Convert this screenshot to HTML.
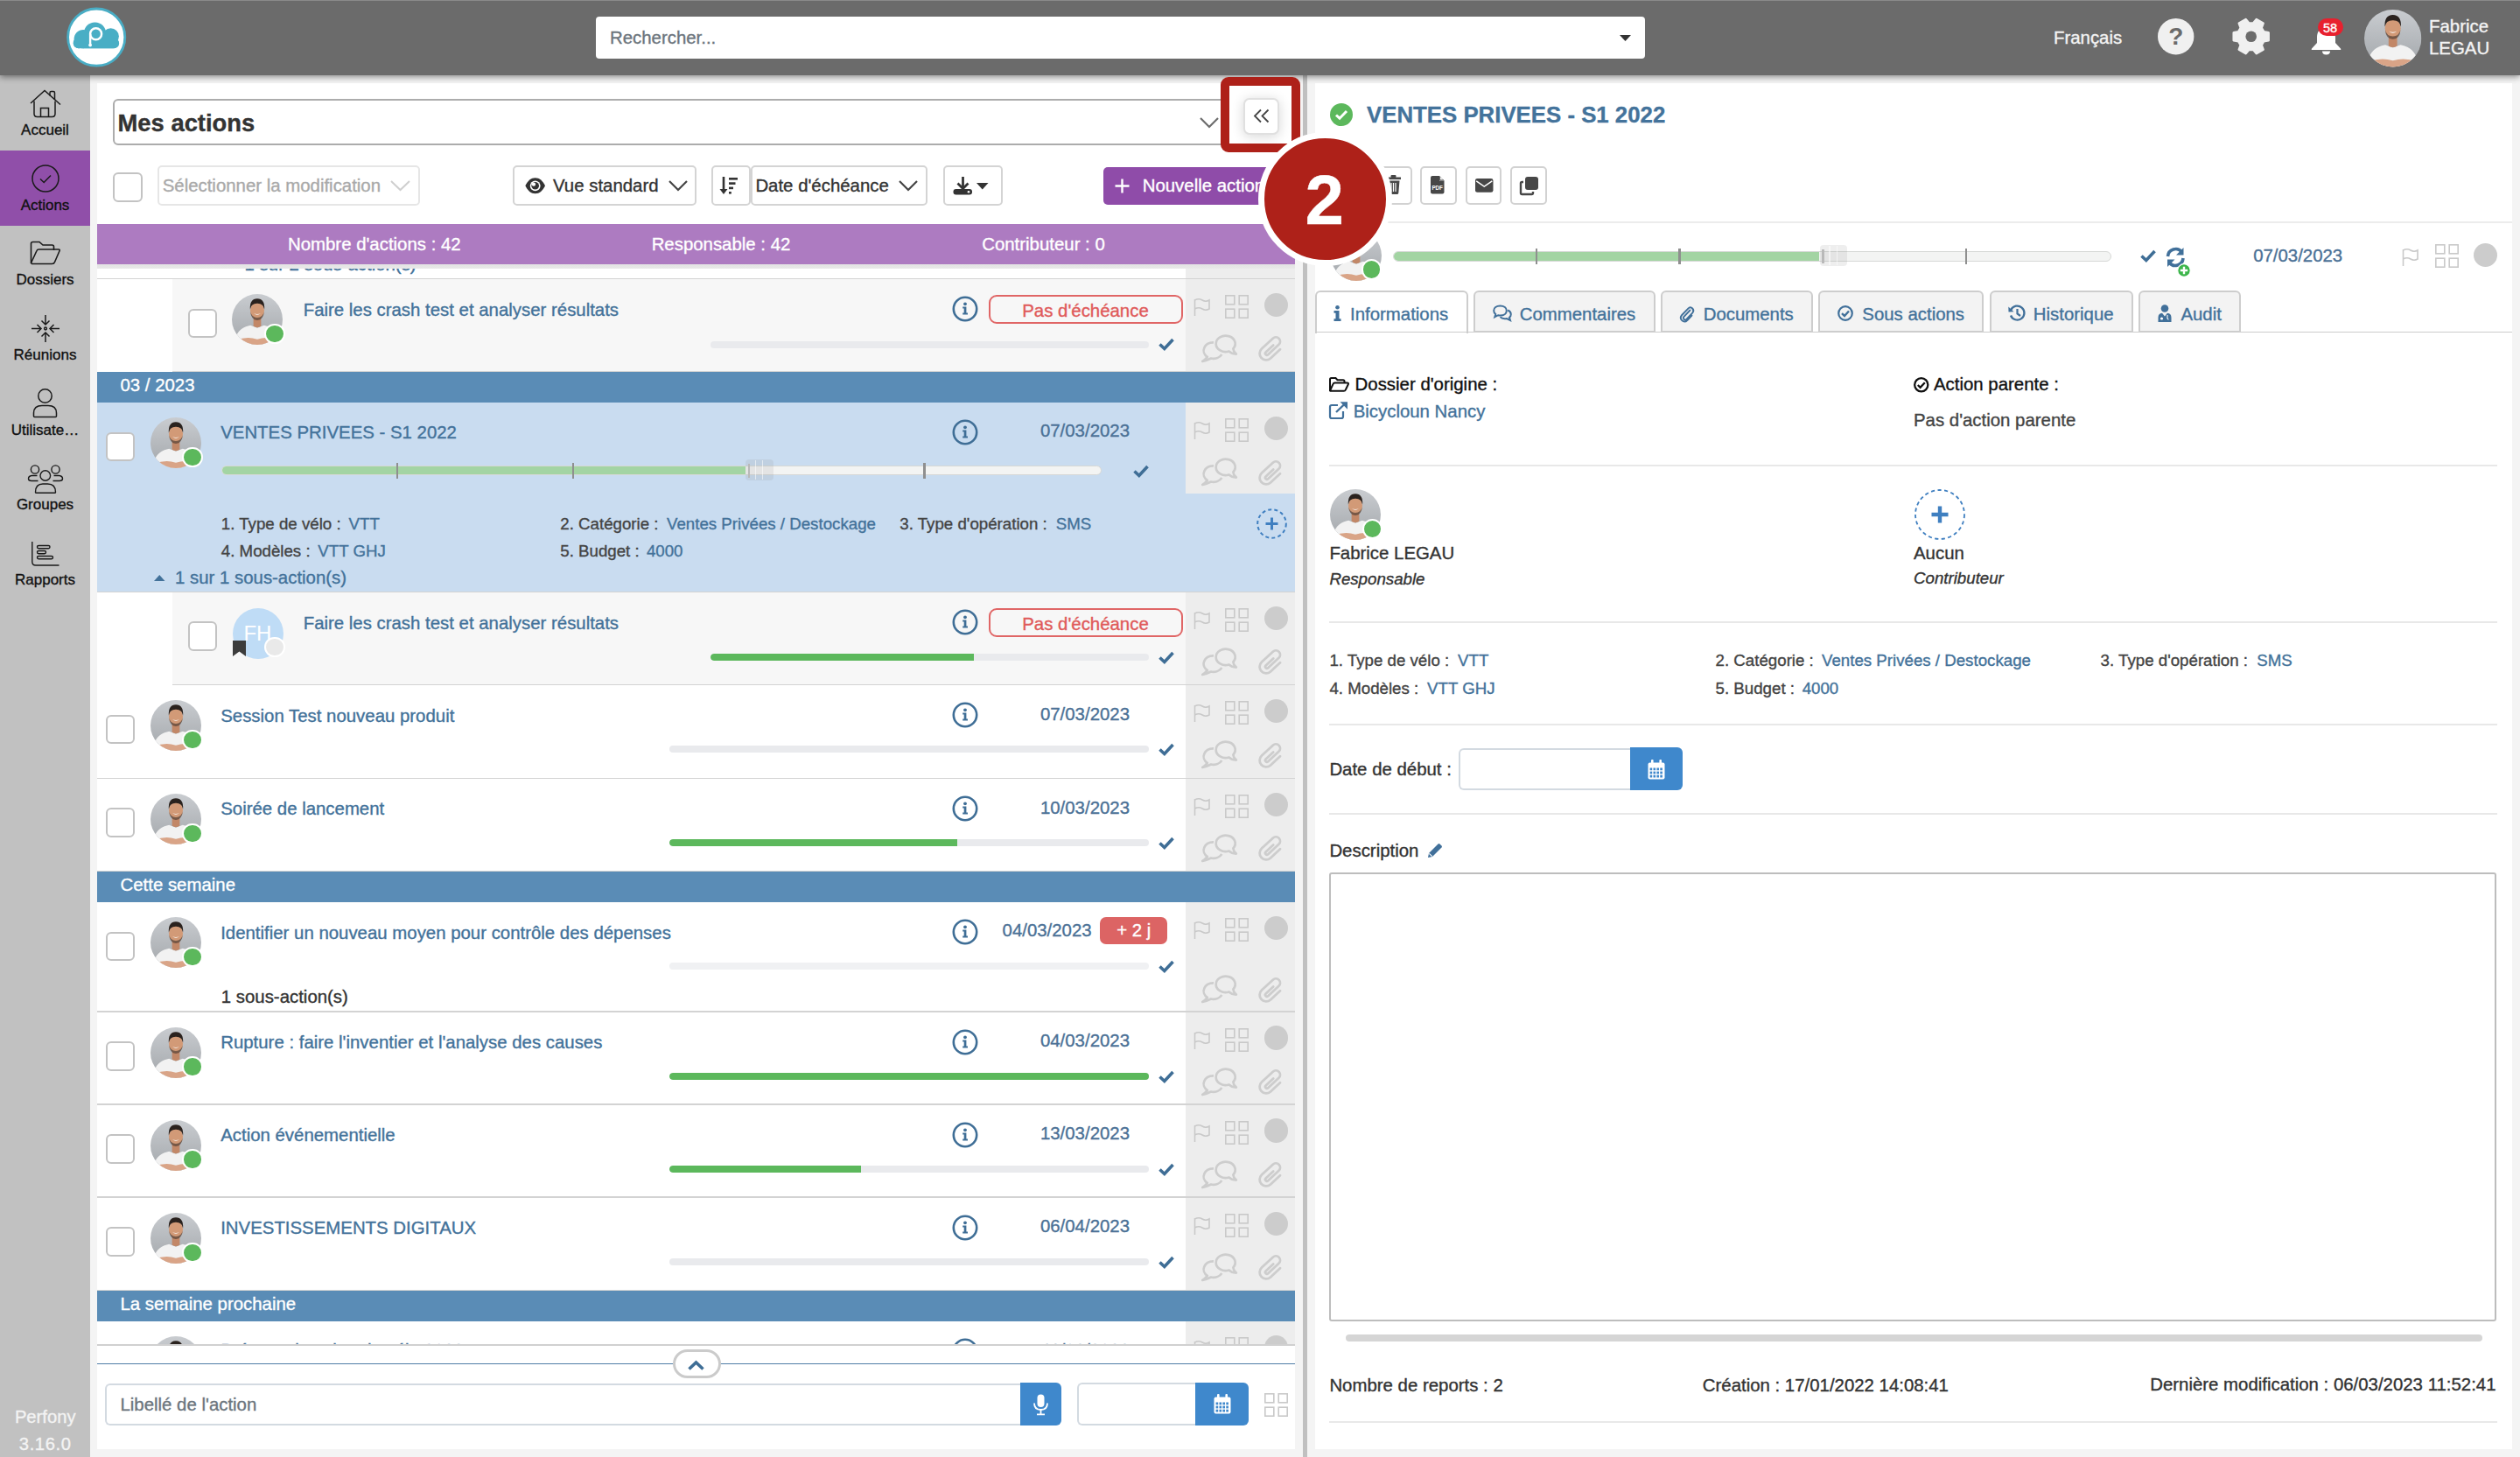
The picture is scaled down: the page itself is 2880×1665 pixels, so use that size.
<!DOCTYPE html><html><head><meta charset="utf-8"><title>Perfony - Mes actions</title><style>
html,body{margin:0;padding:0;}
body{width:2880px;height:1665px;position:relative;overflow:hidden;background:#f4f4f4;font-family:"Liberation Sans", Arial, Helvetica, sans-serif;}
.t{position:absolute;white-space:nowrap;line-height:1;-webkit-text-stroke:0.35px currentColor;}
svg{overflow:visible}
</style></head><body>
<div style="position:absolute;left:111.0px;top:95.0px;width:1369.0px;height:1561.0px;background:#fff"></div>
<div style="position:absolute;left:1502.5px;top:95.0px;width:1368.5px;height:1561.0px;background:#fff"></div>
<div style="position:absolute;left:1488.8px;top:85.0px;width:5.2px;height:1580.0px;background:#c0c0c0"></div>
<div style="position:absolute;left:0.0px;top:85.0px;width:103.0px;height:1580.0px;background:#c1c1c1"></div>
<div style="position:absolute;left:0.0px;top:172.0px;width:103.0px;height:85.5px;background:#904fa9"></div>
<svg style="position:absolute;left:33.0px;top:101.0px;" width="38.0" height="34.0" viewBox="0 0 38 34"><path d="M2 17 L18 2.5 L36 18.5" fill="none" stroke="#1a1a1a" stroke-width="1.5"/><path d="M6 14.5 V29 Q6 32.5 9.5 32.5 H26.5 Q30 32.5 30 29 V14.5" fill="none" stroke="#1a1a1a" stroke-width="1.5"/><path d="M13.5 32.5 V22.5 H22.5 V32.5" fill="none" stroke="#1a1a1a" stroke-width="1.5"/><path d="M24 8.5 V5 Q24 3.5 25.5 3.5 H28 Q29.5 3.5 29.5 5 V13" fill="none" stroke="#1a1a1a" stroke-width="1.5"/></svg>
<div class="t" style="left:-448.5px;width:1000px;text-align:center;top:139.6px;font-size:17px;color:#111;">Accueil</div>
<svg style="position:absolute;left:35.5px;top:187.5px;" width="32.0" height="32.0" viewBox="0 0 32 32"><circle cx="16" cy="16" r="15" fill="none" stroke="#1a1a1a" stroke-width="1.5"/><path d="M10 16.5 L14.2 20.5 L22 12.5" fill="none" stroke="#1a1a1a" stroke-width="1.5"/></svg>
<div class="t" style="left:-448.5px;width:1000px;text-align:center;top:225.6px;font-size:17px;color:#111;">Actions</div>
<svg style="position:absolute;left:33.5px;top:275.0px;" width="36.0" height="29.0" viewBox="0 0 36 29"><path d="M1.5 25.5 V3.5 Q1.5 1.5 3.5 1.5 H11 L15 5 H25.5 Q27.5 5 27.5 7 V11" fill="none" stroke="#1a1a1a" stroke-width="1.6"/><path d="M1.5 25.5 L8 11.5 Q8.6 10 10.3 10 H33 Q34.8 10 34 11.8 L28.5 24.5 Q27.8 26.5 25.5 26.5 H2.5 Z" fill="none" stroke="#1a1a1a" stroke-width="1.6" stroke-linejoin="round"/></svg>
<div class="t" style="left:-448.5px;width:1000px;text-align:center;top:310.6px;font-size:17px;color:#111;">Dossiers</div>
<svg style="position:absolute;left:35.5px;top:359.5px;" width="32.0" height="31.0" viewBox="0 0 32 31"><g fill="none" stroke="#1a1a1a" stroke-width="1.5"><path d="M16 0 V11 M11.5 6.5 L16 11 L20.5 6.5"/><path d="M16 31 V20 M11.5 24.5 L16 20 L20.5 24.5"/><path d="M0 15.5 H11 M6.5 11 L11 15.5 L6.5 20"/><path d="M32 15.5 H21 M25.5 11 L21 15.5 L25.5 20"/><circle cx="16" cy="15.5" r="1.4"/></g></svg>
<div class="t" style="left:-448.5px;width:1000px;text-align:center;top:396.6px;font-size:17px;color:#111;">Réunions</div>
<svg style="position:absolute;left:37.0px;top:444.0px;" width="29.0" height="33.0" viewBox="0 0 29 33"><g fill="none" stroke="#1a1a1a" stroke-width="1.5"><circle cx="14.5" cy="8.5" r="7.7"/><path d="M1.5 31.5 V28 Q1.5 19.5 11 19.5 H18 Q27.5 19.5 27.5 28 V31.5 Q27.5 32.5 26.5 32.5 H2.5 Q1.5 32.5 1.5 31.5 Z"/></g></svg>
<div class="t" style="left:-448.5px;width:1000px;text-align:center;top:482.6px;font-size:17px;color:#111;">Utilisate…</div>
<svg style="position:absolute;left:32.0px;top:530.5px;" width="40.0" height="33.0" viewBox="0 0 40 33"><g fill="none" stroke="#1a1a1a" stroke-width="1.4"><circle cx="8" cy="5.5" r="4.6"/><circle cx="31.5" cy="5.5" r="4.6"/><circle cx="19.8" cy="12.5" r="5.8"/><path d="M11.5 18.5 H4 Q0.5 18.5 0.5 16 Q0.5 13 4.5 12.5 H10.5"/><path d="M28.5 18.5 H36 Q39.5 18.5 39.5 16 Q39.5 13 35.5 12.5 H29.5"/><path d="M8.5 31.5 Q8.5 22 17 22 H22.5 Q31.5 22 31.5 31.5 Q31.5 32.3 30.5 32.3 H9.5 Q8.5 32.3 8.5 31.5 Z"/></g></svg>
<div class="t" style="left:-448.5px;width:1000px;text-align:center;top:567.6px;font-size:17px;color:#111;">Groupes</div>
<svg style="position:absolute;left:35.5px;top:618.5px;" width="32.0" height="28.0" viewBox="0 0 32 28"><g fill="none" stroke="#1a1a1a" stroke-width="1.4"><path d="M0.8 0 V23 Q0.8 27 4.8 27 H31.5"/><rect x="6.5" y="4.5" width="14.5" height="3.2" rx="1.6"/><rect x="6.5" y="10.5" width="10" height="3.2" rx="1.6"/><rect x="6.5" y="16.5" width="18" height="3.2" rx="1.6"/></g></svg>
<div class="t" style="left:-448.5px;width:1000px;text-align:center;top:653.6px;font-size:17px;color:#111;">Rapports</div>
<div class="t" style="left:-448.3px;width:1000px;text-align:center;top:1608.6px;font-size:20.2px;color:#f3f3f3;">Perfony</div>
<div class="t" style="left:-448.3px;width:1000px;text-align:center;top:1639.5px;font-size:20.2px;color:#f3f3f3;letter-spacing:0.6px">3.16.0</div>
<div style="position:absolute;left:0.0px;top:0.0px;width:2880.0px;height:85.5px;background:#6b6b6b;box-shadow:0 2px 7px rgba(0,0,0,0.45);border-top:1px solid #8a8a8a;box-sizing:border-box;z-index:5"></div>
<svg style="position:absolute;left:75.5px;top:9.0px;z-index:6" width="68.0" height="68.0" viewBox="0 0 68 68"><circle cx="34.2" cy="33.6" r="32.6" fill="#fff" stroke="#49adc5" stroke-width="2.8"/>
<g fill="#49aec5"><circle cx="32.5" cy="29" r="12.6"/><circle cx="50.5" cy="32.6" r="9.4"/><circle cx="54" cy="40.2" r="6"/><circle cx="19.2" cy="35.6" r="10.6"/><circle cx="14" cy="40" r="6.2"/>
<rect x="7.7" y="35" width="52.4" height="11.2" rx="6"/><rect x="17" y="30" width="36" height="16.2"/></g>
<circle cx="33.6" cy="29.8" r="6.5" fill="none" stroke="#fff" stroke-width="2.5"/>
<path d="M27.1 29.8 V42" stroke="#fff" stroke-width="2.4"/><circle cx="27.1" cy="42.6" r="1.9" fill="#fff"/></svg>
<div style="position:absolute;left:681.0px;top:19.0px;width:1199.0px;height:48.0px;background:#fff;border-radius:4px;z-index:6"></div>
<div class="t" style="left:697.0px;top:33.2px;font-size:20.4px;color:#6c757d;z-index:7">Rechercher...</div>
<svg style="position:absolute;left:1851.0px;top:40.0px;z-index:7" width="13.0" height="7.0" viewBox="0 0 13 7"><path d="M0 0 H13 L6.5 7 Z" fill="#333"/></svg>
<div class="t" style="left:2347.0px;top:32.9px;font-size:20.4px;color:#f4f4f4;z-index:7">Français</div>
<svg style="position:absolute;left:2465.7px;top:20.7px;z-index:7" width="41.4" height="41.4" viewBox="0 0 41.4 41.4"><circle cx="20.7" cy="20.7" r="20.7" fill="#f0f0f0"/><text x="20.9" y="30" text-anchor="middle" font-family="Liberation Sans, Arial" font-weight="bold" font-size="28" fill="#6b6b6b">?</text></svg>
<svg style="position:absolute;left:2551.5px;top:20.7px;z-index:7" width="41.4" height="41.4" viewBox="0 0 41.4 41.4"><path d="M35.21 15.24 L40.69 16.16 L40.69 25.24 L35.21 26.16 L32.68 30.53 L34.63 35.74 L26.77 40.28 L23.22 35.99 L18.18 35.99 L14.63 40.28 L6.77 35.74 L8.72 30.53 L6.19 26.16 L0.71 25.24 L0.71 16.16 L6.19 15.24 L8.72 10.87 L6.77 5.66 L14.63 1.12 L18.18 5.41 L23.22 5.41 L26.77 1.12 L34.63 5.66 L32.68 10.87 Z" fill="#f0f0f0" stroke="#f0f0f0" stroke-width="2.5" stroke-linejoin="round"/><circle cx="20.7" cy="20.7" r="6.3" fill="#6b6b6b"/></svg>
<svg style="position:absolute;left:2639.5px;top:28.0px;z-index:7" width="37.0" height="35.0" viewBox="0 0 37 35"><path d="M18.5 3 C10 3 8 10 8 15 V21 L2 27.5 Q1 29 3 29 H34 Q36 29 35 27.5 L29 21 V15 C29 10 27 3 18.5 3 Z" fill="#fff"/><path d="M14 30.5 Q14 34.5 18.5 34.5 Q23 34.5 23 30.5 Z" fill="#fff"/></svg>
<div style="position:absolute;left:2648.5px;top:21px;width:29px;height:20px;border-radius:10px;background:#e8202e;z-index:8"></div>
<div class="t" style="left:2163.0px;width:1000px;text-align:center;top:24.9px;font-size:14.5px;color:#fff;z-index:9">58</div>
<div style="position:absolute;left:0;top:0;z-index:7">
<svg style="position:absolute;left:2702.3px;top:10.6px;" width="65.4" height="65.4" viewBox="0 0 60 60"><defs><clipPath id="ac1"><circle cx="30" cy="30" r="30"/></clipPath>
<linearGradient id="ag1" x1="0" y1="0" x2="0" y2="1"><stop offset="0" stop-color="#c9ccd0"/><stop offset="1" stop-color="#a3a7ab"/></linearGradient></defs>
<g clip-path="url(#ac1)"><rect width="60" height="60" fill="url(#ag1)"/>
<path d="M3 64 C3 45 11 39.5 22 37 L30 40 L38 37 C49 39.5 57 45 57 64 Z" fill="#f2f2f2"/>
<path d="M5 55 Q17 49.5 30 53.5 Q43 49.5 55 55 L57 64 L3 64 Z" fill="#d9a487"/>
<path d="M25.5 27 H34.5 V38 Q30 41 25.5 38 Z" fill="#c28767"/>
<ellipse cx="30" cy="19.5" rx="8.3" ry="10.2" fill="#d29a77"/>
<path d="M21.6 18 Q20.8 5.6 30 5.4 Q39.2 5.6 38.4 18 Q37.2 11 30 11.2 Q22.8 11 21.6 18 Z" fill="#2a221e"/>
<path d="M22 21 Q22.5 30.5 30 31 Q37.5 30.5 38 21 Q36.5 27.8 30 28 Q23.5 27.8 22 21Z" fill="#3e302a" opacity="0.6"/>
<path d="M25.8 22.8 Q30 26.5 34.2 22.8 Q30 24.6 25.8 22.8Z" fill="#fff"/>
</g></svg>
</div>
<div class="t" style="left:2776.0px;top:19.5px;font-size:20.4px;color:#f4f4f4;z-index:7">Fabrice</div>
<div class="t" style="left:2776.0px;top:45.3px;font-size:20.4px;color:#f4f4f4;z-index:7">LEGAU</div>
<div style="position:absolute;left:129.0px;top:112.5px;width:1290.0px;height:53.0px;border:2px solid #acacac;border-radius:6px;box-sizing:border-box;background:#fff"></div>
<div class="t" style="left:134.5px;top:127.0px;font-size:27.4px;color:#333;font-weight:bold;">Mes actions</div>
<svg style="position:absolute;left:1371.0px;top:133.5px;" width="22.0" height="12.0" viewBox="0 0 22 12"><path d="M1 1 L11.0 11 L21 1" fill="none" stroke="#6d6d6d" stroke-width="2.2"/></svg>
<div style="position:absolute;left:128.6px;top:197.0px;width:34.0px;height:34.0px;box-sizing:border-box;border:2px solid #c3c3c3;border-radius:6px;background:#fff"></div>
<div style="position:absolute;left:180.0px;top:188.8px;width:300.0px;height:46.2px;border:2px solid #e6e6e6;border-radius:5px;box-sizing:border-box;background:#fff"></div>
<div class="t" style="left:185.7px;top:201.7px;font-size:20.4px;color:#a9a9a9;">Sélectionner la modification</div>
<svg style="position:absolute;left:446.0px;top:205.5px;" width="23.0" height="12.0" viewBox="0 0 23 12"><path d="M1 1 L11.5 11 L22 1" fill="none" stroke="#cfcfcf" stroke-width="2"/></svg>
<div style="position:absolute;left:586.2px;top:188.8px;width:209.8px;height:46.2px;border:2px solid #d4d4d4;border-radius:5px;box-sizing:border-box;background:#fff"></div>
<svg style="position:absolute;left:599.7px;top:202.8px;" width="23.4" height="18.6" viewBox="0 0 23.4 18.6"><path d="M0.4 9.3 C3 3.6 7 0.3 11.7 0.3 C16.4 0.3 20.4 3.6 23 9.3 C20.4 15 16.4 18.3 11.7 18.3 C7 18.3 3 15 0.4 9.3 Z" fill="#333"/><circle cx="11.7" cy="9.3" r="5.9" fill="#fff"/><circle cx="11.7" cy="9.3" r="4.3" fill="#333"/><circle cx="9.9" cy="7.6" r="2.2" fill="#fff"/></svg>
<div class="t" style="left:632.0px;top:201.7px;font-size:20.4px;color:#333;">Vue standard</div>
<svg style="position:absolute;left:763.5px;top:205.5px;" width="22.0" height="12.0" viewBox="0 0 22 12"><path d="M1 1 L11.0 11 L21 1" fill="none" stroke="#444" stroke-width="2.2"/></svg>
<div style="position:absolute;left:813.0px;top:188.8px;width:44.5px;height:46.2px;border:2px solid #d4d4d4;border-radius:5px;box-sizing:border-box;background:#fff"></div>
<svg style="position:absolute;left:822.0px;top:202.0px;" width="22.0" height="21.0" viewBox="0 0 22 21"><path d="M5 0 V17" stroke="#333" stroke-width="2.6"/><path d="M0.5 14 L5 20 L9.5 14 Z" fill="#333"/><rect x="11" y="1" width="10" height="2.6" fill="#333"/><rect x="11" y="6.3" width="7.5" height="2.6" fill="#333"/><rect x="11" y="11.6" width="5" height="2.6" fill="#333"/><rect x="11" y="17" width="2.8" height="2.6" fill="#333"/></svg>
<div style="position:absolute;left:858.0px;top:188.8px;width:201.8px;height:46.2px;border:2px solid #d4d4d4;border-radius:5px;box-sizing:border-box;background:#fff"></div>
<div class="t" style="left:863.4px;top:201.7px;font-size:20.4px;color:#333;">Date d'échéance</div>
<svg style="position:absolute;left:1027.0px;top:205.5px;" width="22.0" height="12.0" viewBox="0 0 22 12"><path d="M1 1 L11.0 11 L21 1" fill="none" stroke="#444" stroke-width="2.2"/></svg>
<div style="position:absolute;left:1077.5px;top:188.8px;width:68.5px;height:46.2px;border:2px solid #d4d4d4;border-radius:5px;box-sizing:border-box;background:#fff"></div>
<svg style="position:absolute;left:1088.5px;top:201.0px;" width="23.0" height="22.0" viewBox="0 0 23 22"><path d="M11.5 1 V13" stroke="#333" stroke-width="2.8"/><path d="M5.5 8.5 L11.5 14.5 L17.5 8.5" fill="none" stroke="#333" stroke-width="2.8"/><path d="M1.5 14 V19.5 Q1.5 21 3 21 H20 Q21.5 21 21.5 19.5 V14" fill="none" stroke="#333" stroke-width="0"/><rect x="0.5" y="15" width="21.5" height="6.5" rx="3" fill="#333"/><circle cx="18" cy="18.2" r="1.3" fill="#fff"/></svg>
<svg style="position:absolute;left:1116.0px;top:209.0px;" width="13.5" height="7.5" viewBox="0 0 13.5 7.5"><path d="M0 0 H13.5 L6.75 7.5 Z" fill="#333"/></svg>
<div style="position:absolute;left:1261.0px;top:191.3px;width:240.0px;height:42.3px;background:#8f4ca9;border-radius:5px"></div>
<svg style="position:absolute;left:1273.5px;top:203.5px;" width="17.0" height="17.0" viewBox="0 0 17 17"><path d="M8.5 0.5 V16.5 M0.5 8.5 H16.5" stroke="#fff" stroke-width="2.4"/></svg>
<div class="t" style="left:1305.7px;top:202.2px;font-size:20.4px;color:#fff;">Nouvelle action</div>
<div style="position:absolute;left:111.0px;top:256.4px;width:1369.0px;height:45.5px;background:#ad7bc1"></div>
<div class="t" style="left:-72.2px;width:1000px;text-align:center;top:269.2px;font-size:20.4px;color:#fff;">Nombre d'actions : 42</div>
<div class="t" style="left:324.0px;width:1000px;text-align:center;top:269.2px;font-size:20.4px;color:#fff;">Responsable : 42</div>
<div class="t" style="left:692.5px;width:1000px;text-align:center;top:269.2px;font-size:20.4px;color:#fff;">Contributeur : 0</div>
<div style="position:absolute;left:0;top:0;width:2880px;height:1665px;clip-path:inset(302px 1400px 128px 111px)">
<div style="position:absolute;left:111.0px;top:296.0px;width:1244.0px;height:22.3px;background:#fff"></div>
<div style="position:absolute;left:1355.0px;top:296.0px;width:125.0px;height:22.3px;background:#ededed"></div>
<div class="t" style="left:279.6px;top:291.9px;font-size:20.4px;color:#43729a;">1 sur 2 sous-action(s)</div>
<div style="position:absolute;left:111.0px;top:318.3px;width:86.0px;height:106.4px;background:#fff"></div>
<div style="position:absolute;left:197.0px;top:318.3px;width:1158.0px;height:106.4px;background:#f7f7f7"></div>
<div style="position:absolute;left:1355.0px;top:318.3px;width:125.0px;height:106.4px;background:#ededed"></div>
<div style="position:absolute;left:214.7px;top:352.5px;width:33.5px;height:33.5px;box-sizing:border-box;border:2px solid #c3c3c3;border-radius:6px;background:#fff"></div>
<svg style="position:absolute;left:265.4px;top:336.0px;" width="58.0" height="58.0" viewBox="0 0 60 60"><defs><clipPath id="ac2"><circle cx="30" cy="30" r="30"/></clipPath>
<linearGradient id="ag2" x1="0" y1="0" x2="0" y2="1"><stop offset="0" stop-color="#c9ccd0"/><stop offset="1" stop-color="#a3a7ab"/></linearGradient></defs>
<g clip-path="url(#ac2)"><rect width="60" height="60" fill="url(#ag2)"/>
<path d="M3 64 C3 45 11 39.5 22 37 L30 40 L38 37 C49 39.5 57 45 57 64 Z" fill="#f2f2f2"/>
<path d="M5 55 Q17 49.5 30 53.5 Q43 49.5 55 55 L57 64 L3 64 Z" fill="#d9a487"/>
<path d="M25.5 27 H34.5 V38 Q30 41 25.5 38 Z" fill="#c28767"/>
<ellipse cx="30" cy="19.5" rx="8.3" ry="10.2" fill="#d29a77"/>
<path d="M21.6 18 Q20.8 5.6 30 5.4 Q39.2 5.6 38.4 18 Q37.2 11 30 11.2 Q22.8 11 21.6 18 Z" fill="#2a221e"/>
<path d="M22 21 Q22.5 30.5 30 31 Q37.5 30.5 38 21 Q36.5 27.8 30 28 Q23.5 27.8 22 21Z" fill="#3e302a" opacity="0.6"/>
<path d="M25.8 22.8 Q30 26.5 34.2 22.8 Q30 24.6 25.8 22.8Z" fill="#fff"/>
</g></svg>
<div style="position:absolute;left:302.2px;top:369.6px;width:19.4px;height:19.4px;border-radius:50%;background:#5cb85c;border:2.5px solid #fff"></div>
<div class="t" style="left:346.7px;top:344.4px;font-size:20.4px;color:#43729a;">Faire les crash test et analyser résultats</div>
<svg style="position:absolute;left:1088.0px;top:338.0px;" width="30.0" height="30.0" viewBox="0 0 30 30"><circle cx="15" cy="15" r="13.2" fill="none" stroke="#3f6e96" stroke-width="2.6"/><circle cx="15" cy="9.3" r="1.9" fill="#3f6e96"/><path d="M12.2 12.6 H16.4 V19.6 H18 V21.6 H12.2 V19.6 H13.7 V14.6 H12.2 Z" fill="#3f6e96"/></svg>
<div style="position:absolute;left:1129.5px;top:337.0px;width:222.0px;height:33.2px;border:2px solid #e06666;border-radius:9px;box-sizing:border-box"></div>
<div class="t" style="left:740.5px;width:1000px;text-align:center;top:345.2px;font-size:20.4px;color:#e05a5a;">Pas d'échéance</div>
<div style="position:absolute;left:811.6px;top:389.5px;width:501.8px;height:8px;border-radius:4.0px;background:#e9eaed;overflow:hidden"><div style="width:0.0px;height:8px;background:#5cb85c;border-radius:4.0px 0 0 4.0px"></div></div>
<svg style="position:absolute;left:1324.0px;top:386.3px;" width="18.0" height="14.0" viewBox="0 0 18 14"><path d="M1.5 7.5 L6.8 12.5 L16.5 2" fill="none" stroke="#3f6e96" stroke-width="3.6" stroke-linejoin="miter" stroke-linecap="butt"/></svg>
<svg style="position:absolute;left:1363.5px;top:339.8px;" width="19.0" height="21.0" viewBox="0 0 19 21"><path d="M1.5 21 V2 M1.5 3 Q6 0.5 10 3 Q14 5.5 18 3 V13 Q14 15.5 10 13 Q6 10.5 1.5 13" fill="none" stroke="#c9c9c9" stroke-width="1.6"/></svg>
<svg style="position:absolute;left:1400.0px;top:336.8px;" width="27.0" height="27.0" viewBox="0 0 27 27"><rect x="0.80" y="0.80" width="10.01" height="10.01" fill="none" stroke="#c9c9c9" stroke-width="1.6"/><rect x="0.80" y="16.19" width="10.01" height="10.01" fill="none" stroke="#c9c9c9" stroke-width="1.6"/><rect x="16.19" y="0.80" width="10.01" height="10.01" fill="none" stroke="#c9c9c9" stroke-width="1.6"/><rect x="16.19" y="16.19" width="10.01" height="10.01" fill="none" stroke="#c9c9c9" stroke-width="1.6"/></svg>
<div style="position:absolute;left:1444.5px;top:334.6px;width:27.4px;height:27.4px;border-radius:50%;background:#cccccc"></div>
<svg style="position:absolute;left:1372.5px;top:380.8px;" width="41.0" height="33.0" viewBox="0 0 41 33"><path d="M31.46 20.45 A11.0 9.2 0 1 1 36.37 17.46 Q36.5 20.5 39.8 23.6 Q34.5 23.2 31.46 20.45 Z" fill="none" stroke="#cdcdcd" stroke-width="2.7" stroke-linejoin="round"/><path d="M13.98 10.41 A11.0 9.2 0 0 0 6.83 26.85 Q4.5 30 1.3 32 Q6.5 30.8 10.94 28.53 A11.0 9.2 0 0 0 23.31 23.92" fill="none" stroke="#cdcdcd" stroke-width="2.7" stroke-linejoin="round"/></svg>
<svg style="position:absolute;left:1437.0px;top:380.3px;" width="30.0" height="34.0" viewBox="0 0 30 34"><path d="M26.02 19.18 L15.05 29.41 A7.4 7.4 0 0 1 4.95 18.59 L17.75 6.65 A4.9 4.9 0 0 1 24.44 13.82 L12.22 25.21 A1.9 1.9 0 0 1 9.63 22.43 L18.19 14.45" fill="none" stroke="#cdcdcd" stroke-width="2.8" stroke-linecap="round"/></svg>
<div style="position:absolute;left:111.0px;top:425.0px;width:1369.0px;height:34.5px;background:#5a8cb6"></div>
<div class="t" style="left:137.5px;top:430.0px;font-size:20.4px;color:#fff;">03 / 2023</div>
<div style="position:absolute;left:111.0px;top:459.5px;width:1369.0px;height:216.7px;background:#c9dcf0"></div>
<div style="position:absolute;left:1355.0px;top:459.5px;width:125.0px;height:104.5px;background:#ececec"></div>
<div style="position:absolute;left:120.8px;top:493.6px;width:33.5px;height:33.5px;box-sizing:border-box;border:2px solid #c3c3c3;border-radius:6px;background:#fff"></div>
<svg style="position:absolute;left:171.5px;top:477.0px;" width="58.0" height="58.0" viewBox="0 0 60 60"><defs><clipPath id="ac3"><circle cx="30" cy="30" r="30"/></clipPath>
<linearGradient id="ag3" x1="0" y1="0" x2="0" y2="1"><stop offset="0" stop-color="#c9ccd0"/><stop offset="1" stop-color="#a3a7ab"/></linearGradient></defs>
<g clip-path="url(#ac3)"><rect width="60" height="60" fill="url(#ag3)"/>
<path d="M3 64 C3 45 11 39.5 22 37 L30 40 L38 37 C49 39.5 57 45 57 64 Z" fill="#f2f2f2"/>
<path d="M5 55 Q17 49.5 30 53.5 Q43 49.5 55 55 L57 64 L3 64 Z" fill="#d9a487"/>
<path d="M25.5 27 H34.5 V38 Q30 41 25.5 38 Z" fill="#c28767"/>
<ellipse cx="30" cy="19.5" rx="8.3" ry="10.2" fill="#d29a77"/>
<path d="M21.6 18 Q20.8 5.6 30 5.4 Q39.2 5.6 38.4 18 Q37.2 11 30 11.2 Q22.8 11 21.6 18 Z" fill="#2a221e"/>
<path d="M22 21 Q22.5 30.5 30 31 Q37.5 30.5 38 21 Q36.5 27.8 30 28 Q23.5 27.8 22 21Z" fill="#3e302a" opacity="0.6"/>
<path d="M25.8 22.8 Q30 26.5 34.2 22.8 Q30 24.6 25.8 22.8Z" fill="#fff"/>
</g></svg>
<div style="position:absolute;left:208.3px;top:510.6px;width:19.4px;height:19.4px;border-radius:50%;background:#5cb85c;border:2.5px solid #fff"></div>
<div class="t" style="left:252.2px;top:483.7px;font-size:20.4px;color:#43729a;">VENTES PRIVEES - S1 2022</div>
<svg style="position:absolute;left:1088.0px;top:478.8px;" width="30.0" height="30.0" viewBox="0 0 30 30"><circle cx="15" cy="15" r="13.2" fill="none" stroke="#3f6e96" stroke-width="2.6"/><circle cx="15" cy="9.3" r="1.9" fill="#3f6e96"/><path d="M12.2 12.6 H16.4 V19.6 H18 V21.6 H12.2 V19.6 H13.7 V14.6 H12.2 Z" fill="#3f6e96"/></svg>
<div class="t" style="right:1589.0px;top:481.7px;font-size:20.4px;color:#4b7196;">07/03/2023</div>
<div style="position:absolute;left:253.0px;top:532.3px;width:1004.4px;height:9px;border-radius:5.5px;background:#f3f4f3;border:1px solid #d6d8d6;overflow:hidden"><div style="width:597.6px;height:9px;background:#a3d4a3"></div></div>
<div style="position:absolute;left:452.7px;top:528.8px;width:2.6px;height:18px;background:#8f8f8f"></div>
<div style="position:absolute;left:653.6px;top:528.8px;width:2.6px;height:18px;background:#8f8f8f"></div>
<div style="position:absolute;left:1055.3px;top:528.8px;width:2.6px;height:18px;background:#8f8f8f"></div>
<div style="position:absolute;left:852.2px;top:524.8px;width:31.5px;height:24px;border-radius:4px;background:rgba(150,150,150,0.16)"><div style="position:absolute;left:10.5px;top:1px;width:1.2px;height:22px;background:rgba(255,255,255,0.55)"></div><div style="position:absolute;left:19px;top:1px;width:1.2px;height:22px;background:rgba(255,255,255,0.55)"></div><div style="position:absolute;left:2.5px;top:5px;width:2.6px;height:16px;background:#b9b9b9"></div></div>
<svg style="position:absolute;left:1294.6px;top:530.5px;" width="18.0" height="14.0" viewBox="0 0 18 14"><path d="M1.5 7.5 L6.8 12.5 L16.5 2" fill="none" stroke="#3f6e96" stroke-width="3.6" stroke-linejoin="miter" stroke-linecap="butt"/></svg>
<svg style="position:absolute;left:1363.5px;top:481.0px;" width="19.0" height="21.0" viewBox="0 0 19 21"><path d="M1.5 21 V2 M1.5 3 Q6 0.5 10 3 Q14 5.5 18 3 V13 Q14 15.5 10 13 Q6 10.5 1.5 13" fill="none" stroke="#c9c9c9" stroke-width="1.6"/></svg>
<svg style="position:absolute;left:1400.0px;top:478.0px;" width="27.0" height="27.0" viewBox="0 0 27 27"><rect x="0.80" y="0.80" width="10.01" height="10.01" fill="none" stroke="#c9c9c9" stroke-width="1.6"/><rect x="0.80" y="16.19" width="10.01" height="10.01" fill="none" stroke="#c9c9c9" stroke-width="1.6"/><rect x="16.19" y="0.80" width="10.01" height="10.01" fill="none" stroke="#c9c9c9" stroke-width="1.6"/><rect x="16.19" y="16.19" width="10.01" height="10.01" fill="none" stroke="#c9c9c9" stroke-width="1.6"/></svg>
<div style="position:absolute;left:1444.5px;top:475.8px;width:27.4px;height:27.4px;border-radius:50%;background:#cccccc"></div>
<svg style="position:absolute;left:1372.5px;top:522.0px;" width="41.0" height="33.0" viewBox="0 0 41 33"><path d="M31.46 20.45 A11.0 9.2 0 1 1 36.37 17.46 Q36.5 20.5 39.8 23.6 Q34.5 23.2 31.46 20.45 Z" fill="none" stroke="#cdcdcd" stroke-width="2.7" stroke-linejoin="round"/><path d="M13.98 10.41 A11.0 9.2 0 0 0 6.83 26.85 Q4.5 30 1.3 32 Q6.5 30.8 10.94 28.53 A11.0 9.2 0 0 0 23.31 23.92" fill="none" stroke="#cdcdcd" stroke-width="2.7" stroke-linejoin="round"/></svg>
<svg style="position:absolute;left:1437.0px;top:521.5px;" width="30.0" height="34.0" viewBox="0 0 30 34"><path d="M26.02 19.18 L15.05 29.41 A7.4 7.4 0 0 1 4.95 18.59 L17.75 6.65 A4.9 4.9 0 0 1 24.44 13.82 L12.22 25.21 A1.9 1.9 0 0 1 9.63 22.43 L18.19 14.45" fill="none" stroke="#cdcdcd" stroke-width="2.8" stroke-linecap="round"/></svg>
<div class="t" style="left:252.8px;top:590.0px;font-size:18.7px;color:#444;">1. Type de vélo :</div>
<div class="t" style="left:398.6px;top:590.0px;font-size:18.7px;color:#43729a;">VTT</div>
<div class="t" style="left:640.3px;top:590.0px;font-size:18.7px;color:#444;">2. Catégorie :</div>
<div class="t" style="left:762.0px;top:590.0px;font-size:18.7px;color:#43729a;">Ventes Privées / Destockage</div>
<div class="t" style="left:1028.3px;top:590.0px;font-size:18.7px;color:#444;">3. Type d'opération :</div>
<div class="t" style="left:1206.8px;top:590.0px;font-size:18.7px;color:#43729a;">SMS</div>
<div class="t" style="left:252.8px;top:621.4px;font-size:18.7px;color:#444;">4. Modèles :</div>
<div class="t" style="left:363.3px;top:621.4px;font-size:18.7px;color:#43729a;">VTT GHJ</div>
<div class="t" style="left:640.3px;top:621.4px;font-size:18.7px;color:#444;">5. Budget :</div>
<div class="t" style="left:738.9px;top:621.4px;font-size:18.7px;color:#43729a;">4000</div>
<svg style="position:absolute;left:1435.5px;top:580.7px;" width="35.0" height="35.0" viewBox="0 0 35 35"><circle cx="17.5" cy="17.5" r="16.3" fill="none" stroke="#3f7fc0" stroke-width="2" stroke-dasharray="4 3.2"/><path d="M17.5 10.5 V24.5 M10.5 17.5 H24.5" stroke="#3f7fc0" stroke-width="3"/></svg>
<svg style="position:absolute;left:176.4px;top:656.5px;" width="12.5" height="7.0" viewBox="0 0 12.5 7"><path d="M0 7 L6.25 0 L12.5 7 Z" fill="#43729a"/></svg>
<div class="t" style="left:200.0px;top:649.9px;font-size:20.4px;color:#43729a;">1 sur 1 sous-action(s)</div>
<div style="position:absolute;left:111.0px;top:676.2px;width:86.0px;height:106.3px;background:#fff"></div>
<div style="position:absolute;left:197.0px;top:676.2px;width:1158.0px;height:106.3px;background:#f7f7f7"></div>
<div style="position:absolute;left:1355.0px;top:676.2px;width:125.0px;height:106.3px;background:#ededed"></div>
<div style="position:absolute;left:214.7px;top:710.4px;width:33.5px;height:33.5px;box-sizing:border-box;border:2px solid #c3c3c3;border-radius:6px;background:#fff"></div>
<div style="position:absolute;left:265.8px;top:695.0px;width:58px;height:58px;border-radius:50%;background:#bfdcf6"></div>
<div class="t" style="left:-205.6px;width:1000px;text-align:center;top:711.9px;font-size:24px;color:#fff;-webkit-text-stroke:0;">FH</div>
<svg style="position:absolute;left:265.5px;top:731.7px;" width="15.0" height="18.0" viewBox="0 0 15 18"><path d="M0 0 H15 V18 L7.5 12.5 L0 18 Z" fill="#3c3c3c"/></svg>
<div style="position:absolute;left:302.2px;top:727.5px;width:19.4px;height:19.4px;border-radius:50%;background:#e9e9e9;border:2.5px solid #fff"></div>
<div class="t" style="left:346.7px;top:702.3px;font-size:20.4px;color:#43729a;">Faire les crash test et analyser résultats</div>
<svg style="position:absolute;left:1088.0px;top:695.9px;" width="30.0" height="30.0" viewBox="0 0 30 30"><circle cx="15" cy="15" r="13.2" fill="none" stroke="#3f6e96" stroke-width="2.6"/><circle cx="15" cy="9.3" r="1.9" fill="#3f6e96"/><path d="M12.2 12.6 H16.4 V19.6 H18 V21.6 H12.2 V19.6 H13.7 V14.6 H12.2 Z" fill="#3f6e96"/></svg>
<div style="position:absolute;left:1129.5px;top:694.9px;width:222.0px;height:33.2px;border:2px solid #e06666;border-radius:9px;box-sizing:border-box"></div>
<div class="t" style="left:740.5px;width:1000px;text-align:center;top:703.1px;font-size:20.4px;color:#e05a5a;">Pas d'échéance</div>
<div style="position:absolute;left:811.6px;top:747.4px;width:501.8px;height:8px;border-radius:4.0px;background:#e9eaed;overflow:hidden"><div style="width:301.1px;height:8px;background:#5cb85c;border-radius:4.0px 0 0 4.0px"></div></div>
<svg style="position:absolute;left:1324.0px;top:744.2px;" width="18.0" height="14.0" viewBox="0 0 18 14"><path d="M1.5 7.5 L6.8 12.5 L16.5 2" fill="none" stroke="#3f6e96" stroke-width="3.6" stroke-linejoin="miter" stroke-linecap="butt"/></svg>
<svg style="position:absolute;left:1363.5px;top:697.7px;" width="19.0" height="21.0" viewBox="0 0 19 21"><path d="M1.5 21 V2 M1.5 3 Q6 0.5 10 3 Q14 5.5 18 3 V13 Q14 15.5 10 13 Q6 10.5 1.5 13" fill="none" stroke="#c9c9c9" stroke-width="1.6"/></svg>
<svg style="position:absolute;left:1400.0px;top:694.7px;" width="27.0" height="27.0" viewBox="0 0 27 27"><rect x="0.80" y="0.80" width="10.01" height="10.01" fill="none" stroke="#c9c9c9" stroke-width="1.6"/><rect x="0.80" y="16.19" width="10.01" height="10.01" fill="none" stroke="#c9c9c9" stroke-width="1.6"/><rect x="16.19" y="0.80" width="10.01" height="10.01" fill="none" stroke="#c9c9c9" stroke-width="1.6"/><rect x="16.19" y="16.19" width="10.01" height="10.01" fill="none" stroke="#c9c9c9" stroke-width="1.6"/></svg>
<div style="position:absolute;left:1444.5px;top:692.5px;width:27.4px;height:27.4px;border-radius:50%;background:#cccccc"></div>
<svg style="position:absolute;left:1372.5px;top:738.7px;" width="41.0" height="33.0" viewBox="0 0 41 33"><path d="M31.46 20.45 A11.0 9.2 0 1 1 36.37 17.46 Q36.5 20.5 39.8 23.6 Q34.5 23.2 31.46 20.45 Z" fill="none" stroke="#cdcdcd" stroke-width="2.7" stroke-linejoin="round"/><path d="M13.98 10.41 A11.0 9.2 0 0 0 6.83 26.85 Q4.5 30 1.3 32 Q6.5 30.8 10.94 28.53 A11.0 9.2 0 0 0 23.31 23.92" fill="none" stroke="#cdcdcd" stroke-width="2.7" stroke-linejoin="round"/></svg>
<svg style="position:absolute;left:1437.0px;top:738.2px;" width="30.0" height="34.0" viewBox="0 0 30 34"><path d="M26.02 19.18 L15.05 29.41 A7.4 7.4 0 0 1 4.95 18.59 L17.75 6.65 A4.9 4.9 0 0 1 24.44 13.82 L12.22 25.21 A1.9 1.9 0 0 1 9.63 22.43 L18.19 14.45" fill="none" stroke="#cdcdcd" stroke-width="2.8" stroke-linecap="round"/></svg>
<div style="position:absolute;left:111.0px;top:782.5px;width:1244.0px;height:106.9px;background:#fff"></div>
<div style="position:absolute;left:1355.0px;top:782.5px;width:125.0px;height:106.9px;background:#ededed"></div>
<div style="position:absolute;left:120.8px;top:816.5px;width:33.5px;height:33.5px;box-sizing:border-box;border:2px solid #c3c3c3;border-radius:6px;background:#fff"></div>
<svg style="position:absolute;left:171.5px;top:800.2px;" width="58.0" height="58.0" viewBox="0 0 60 60"><defs><clipPath id="ac4"><circle cx="30" cy="30" r="30"/></clipPath>
<linearGradient id="ag4" x1="0" y1="0" x2="0" y2="1"><stop offset="0" stop-color="#c9ccd0"/><stop offset="1" stop-color="#a3a7ab"/></linearGradient></defs>
<g clip-path="url(#ac4)"><rect width="60" height="60" fill="url(#ag4)"/>
<path d="M3 64 C3 45 11 39.5 22 37 L30 40 L38 37 C49 39.5 57 45 57 64 Z" fill="#f2f2f2"/>
<path d="M5 55 Q17 49.5 30 53.5 Q43 49.5 55 55 L57 64 L3 64 Z" fill="#d9a487"/>
<path d="M25.5 27 H34.5 V38 Q30 41 25.5 38 Z" fill="#c28767"/>
<ellipse cx="30" cy="19.5" rx="8.3" ry="10.2" fill="#d29a77"/>
<path d="M21.6 18 Q20.8 5.6 30 5.4 Q39.2 5.6 38.4 18 Q37.2 11 30 11.2 Q22.8 11 21.6 18 Z" fill="#2a221e"/>
<path d="M22 21 Q22.5 30.5 30 31 Q37.5 30.5 38 21 Q36.5 27.8 30 28 Q23.5 27.8 22 21Z" fill="#3e302a" opacity="0.6"/>
<path d="M25.8 22.8 Q30 26.5 34.2 22.8 Q30 24.6 25.8 22.8Z" fill="#fff"/>
</g></svg>
<div style="position:absolute;left:208.3px;top:833.8px;width:19.4px;height:19.4px;border-radius:50%;background:#5cb85c;border:2.5px solid #fff"></div>
<div class="t" style="left:252.2px;top:807.5px;font-size:20.4px;color:#43729a;">Session Test nouveau produit</div>
<svg style="position:absolute;left:1088.0px;top:802.0px;" width="30.0" height="30.0" viewBox="0 0 30 30"><circle cx="15" cy="15" r="13.2" fill="none" stroke="#3f6e96" stroke-width="2.6"/><circle cx="15" cy="9.3" r="1.9" fill="#3f6e96"/><path d="M12.2 12.6 H16.4 V19.6 H18 V21.6 H12.2 V19.6 H13.7 V14.6 H12.2 Z" fill="#3f6e96"/></svg>
<div class="t" style="right:1589.0px;top:805.7px;font-size:20.4px;color:#4b7196;">07/03/2023</div>
<div style="position:absolute;left:764.9px;top:852.0px;width:548.5px;height:8px;border-radius:4.0px;background:#e9eaed;overflow:hidden"><div style="width:0.0px;height:8px;background:#5cb85c;border-radius:4.0px 0 0 4.0px"></div></div>
<svg style="position:absolute;left:1324.0px;top:849.0px;" width="18.0" height="14.0" viewBox="0 0 18 14"><path d="M1.5 7.5 L6.8 12.5 L16.5 2" fill="none" stroke="#3f6e96" stroke-width="3.6" stroke-linejoin="miter" stroke-linecap="butt"/></svg>
<svg style="position:absolute;left:1363.5px;top:804.0px;" width="19.0" height="21.0" viewBox="0 0 19 21"><path d="M1.5 21 V2 M1.5 3 Q6 0.5 10 3 Q14 5.5 18 3 V13 Q14 15.5 10 13 Q6 10.5 1.5 13" fill="none" stroke="#c9c9c9" stroke-width="1.6"/></svg>
<svg style="position:absolute;left:1400.0px;top:801.0px;" width="27.0" height="27.0" viewBox="0 0 27 27"><rect x="0.80" y="0.80" width="10.01" height="10.01" fill="none" stroke="#c9c9c9" stroke-width="1.6"/><rect x="0.80" y="16.19" width="10.01" height="10.01" fill="none" stroke="#c9c9c9" stroke-width="1.6"/><rect x="16.19" y="0.80" width="10.01" height="10.01" fill="none" stroke="#c9c9c9" stroke-width="1.6"/><rect x="16.19" y="16.19" width="10.01" height="10.01" fill="none" stroke="#c9c9c9" stroke-width="1.6"/></svg>
<div style="position:absolute;left:1444.5px;top:798.8px;width:27.4px;height:27.4px;border-radius:50%;background:#cccccc"></div>
<svg style="position:absolute;left:1372.5px;top:845.0px;" width="41.0" height="33.0" viewBox="0 0 41 33"><path d="M31.46 20.45 A11.0 9.2 0 1 1 36.37 17.46 Q36.5 20.5 39.8 23.6 Q34.5 23.2 31.46 20.45 Z" fill="none" stroke="#cdcdcd" stroke-width="2.7" stroke-linejoin="round"/><path d="M13.98 10.41 A11.0 9.2 0 0 0 6.83 26.85 Q4.5 30 1.3 32 Q6.5 30.8 10.94 28.53 A11.0 9.2 0 0 0 23.31 23.92" fill="none" stroke="#cdcdcd" stroke-width="2.7" stroke-linejoin="round"/></svg>
<svg style="position:absolute;left:1437.0px;top:844.5px;" width="30.0" height="34.0" viewBox="0 0 30 34"><path d="M26.02 19.18 L15.05 29.41 A7.4 7.4 0 0 1 4.95 18.59 L17.75 6.65 A4.9 4.9 0 0 1 24.44 13.82 L12.22 25.21 A1.9 1.9 0 0 1 9.63 22.43 L18.19 14.45" fill="none" stroke="#cdcdcd" stroke-width="2.8" stroke-linecap="round"/></svg>
<div style="position:absolute;left:111.0px;top:889.4px;width:1244.0px;height:106.2px;background:#fff"></div>
<div style="position:absolute;left:1355.0px;top:889.4px;width:125.0px;height:106.2px;background:#ededed"></div>
<div style="position:absolute;left:120.8px;top:923.4px;width:33.5px;height:33.5px;box-sizing:border-box;border:2px solid #c3c3c3;border-radius:6px;background:#fff"></div>
<svg style="position:absolute;left:171.5px;top:907.1px;" width="58.0" height="58.0" viewBox="0 0 60 60"><defs><clipPath id="ac5"><circle cx="30" cy="30" r="30"/></clipPath>
<linearGradient id="ag5" x1="0" y1="0" x2="0" y2="1"><stop offset="0" stop-color="#c9ccd0"/><stop offset="1" stop-color="#a3a7ab"/></linearGradient></defs>
<g clip-path="url(#ac5)"><rect width="60" height="60" fill="url(#ag5)"/>
<path d="M3 64 C3 45 11 39.5 22 37 L30 40 L38 37 C49 39.5 57 45 57 64 Z" fill="#f2f2f2"/>
<path d="M5 55 Q17 49.5 30 53.5 Q43 49.5 55 55 L57 64 L3 64 Z" fill="#d9a487"/>
<path d="M25.5 27 H34.5 V38 Q30 41 25.5 38 Z" fill="#c28767"/>
<ellipse cx="30" cy="19.5" rx="8.3" ry="10.2" fill="#d29a77"/>
<path d="M21.6 18 Q20.8 5.6 30 5.4 Q39.2 5.6 38.4 18 Q37.2 11 30 11.2 Q22.8 11 21.6 18 Z" fill="#2a221e"/>
<path d="M22 21 Q22.5 30.5 30 31 Q37.5 30.5 38 21 Q36.5 27.8 30 28 Q23.5 27.8 22 21Z" fill="#3e302a" opacity="0.6"/>
<path d="M25.8 22.8 Q30 26.5 34.2 22.8 Q30 24.6 25.8 22.8Z" fill="#fff"/>
</g></svg>
<div style="position:absolute;left:208.3px;top:940.7px;width:19.4px;height:19.4px;border-radius:50%;background:#5cb85c;border:2.5px solid #fff"></div>
<div class="t" style="left:252.2px;top:914.4px;font-size:20.4px;color:#43729a;">Soirée de lancement</div>
<svg style="position:absolute;left:1088.0px;top:908.9px;" width="30.0" height="30.0" viewBox="0 0 30 30"><circle cx="15" cy="15" r="13.2" fill="none" stroke="#3f6e96" stroke-width="2.6"/><circle cx="15" cy="9.3" r="1.9" fill="#3f6e96"/><path d="M12.2 12.6 H16.4 V19.6 H18 V21.6 H12.2 V19.6 H13.7 V14.6 H12.2 Z" fill="#3f6e96"/></svg>
<div class="t" style="right:1589.0px;top:912.6px;font-size:20.4px;color:#4b7196;">10/03/2023</div>
<div style="position:absolute;left:764.9px;top:958.9px;width:548.5px;height:8px;border-radius:4.0px;background:#e9eaed;overflow:hidden"><div style="width:329.1px;height:8px;background:#5cb85c;border-radius:4.0px 0 0 4.0px"></div></div>
<svg style="position:absolute;left:1324.0px;top:955.9px;" width="18.0" height="14.0" viewBox="0 0 18 14"><path d="M1.5 7.5 L6.8 12.5 L16.5 2" fill="none" stroke="#3f6e96" stroke-width="3.6" stroke-linejoin="miter" stroke-linecap="butt"/></svg>
<svg style="position:absolute;left:1363.5px;top:910.9px;" width="19.0" height="21.0" viewBox="0 0 19 21"><path d="M1.5 21 V2 M1.5 3 Q6 0.5 10 3 Q14 5.5 18 3 V13 Q14 15.5 10 13 Q6 10.5 1.5 13" fill="none" stroke="#c9c9c9" stroke-width="1.6"/></svg>
<svg style="position:absolute;left:1400.0px;top:907.9px;" width="27.0" height="27.0" viewBox="0 0 27 27"><rect x="0.80" y="0.80" width="10.01" height="10.01" fill="none" stroke="#c9c9c9" stroke-width="1.6"/><rect x="0.80" y="16.19" width="10.01" height="10.01" fill="none" stroke="#c9c9c9" stroke-width="1.6"/><rect x="16.19" y="0.80" width="10.01" height="10.01" fill="none" stroke="#c9c9c9" stroke-width="1.6"/><rect x="16.19" y="16.19" width="10.01" height="10.01" fill="none" stroke="#c9c9c9" stroke-width="1.6"/></svg>
<div style="position:absolute;left:1444.5px;top:905.7px;width:27.4px;height:27.4px;border-radius:50%;background:#cccccc"></div>
<svg style="position:absolute;left:1372.5px;top:951.9px;" width="41.0" height="33.0" viewBox="0 0 41 33"><path d="M31.46 20.45 A11.0 9.2 0 1 1 36.37 17.46 Q36.5 20.5 39.8 23.6 Q34.5 23.2 31.46 20.45 Z" fill="none" stroke="#cdcdcd" stroke-width="2.7" stroke-linejoin="round"/><path d="M13.98 10.41 A11.0 9.2 0 0 0 6.83 26.85 Q4.5 30 1.3 32 Q6.5 30.8 10.94 28.53 A11.0 9.2 0 0 0 23.31 23.92" fill="none" stroke="#cdcdcd" stroke-width="2.7" stroke-linejoin="round"/></svg>
<svg style="position:absolute;left:1437.0px;top:951.4px;" width="30.0" height="34.0" viewBox="0 0 30 34"><path d="M26.02 19.18 L15.05 29.41 A7.4 7.4 0 0 1 4.95 18.59 L17.75 6.65 A4.9 4.9 0 0 1 24.44 13.82 L12.22 25.21 A1.9 1.9 0 0 1 9.63 22.43 L18.19 14.45" fill="none" stroke="#cdcdcd" stroke-width="2.8" stroke-linecap="round"/></svg>
<div style="position:absolute;left:111.0px;top:996.0px;width:1369.0px;height:34.6px;background:#5a8cb6"></div>
<div class="t" style="left:137.5px;top:1001.0px;font-size:20.4px;color:#fff;">Cette semaine</div>
<div style="position:absolute;left:111.0px;top:1030.6px;width:1244.0px;height:125.4px;background:#fff"></div>
<div style="position:absolute;left:1355.0px;top:1030.6px;width:125.0px;height:125.4px;background:#ededed"></div>
<div style="position:absolute;left:120.8px;top:1064.6px;width:33.5px;height:33.5px;box-sizing:border-box;border:2px solid #c3c3c3;border-radius:6px;background:#fff"></div>
<svg style="position:absolute;left:171.5px;top:1048.3px;" width="58.0" height="58.0" viewBox="0 0 60 60"><defs><clipPath id="ac6"><circle cx="30" cy="30" r="30"/></clipPath>
<linearGradient id="ag6" x1="0" y1="0" x2="0" y2="1"><stop offset="0" stop-color="#c9ccd0"/><stop offset="1" stop-color="#a3a7ab"/></linearGradient></defs>
<g clip-path="url(#ac6)"><rect width="60" height="60" fill="url(#ag6)"/>
<path d="M3 64 C3 45 11 39.5 22 37 L30 40 L38 37 C49 39.5 57 45 57 64 Z" fill="#f2f2f2"/>
<path d="M5 55 Q17 49.5 30 53.5 Q43 49.5 55 55 L57 64 L3 64 Z" fill="#d9a487"/>
<path d="M25.5 27 H34.5 V38 Q30 41 25.5 38 Z" fill="#c28767"/>
<ellipse cx="30" cy="19.5" rx="8.3" ry="10.2" fill="#d29a77"/>
<path d="M21.6 18 Q20.8 5.6 30 5.4 Q39.2 5.6 38.4 18 Q37.2 11 30 11.2 Q22.8 11 21.6 18 Z" fill="#2a221e"/>
<path d="M22 21 Q22.5 30.5 30 31 Q37.5 30.5 38 21 Q36.5 27.8 30 28 Q23.5 27.8 22 21Z" fill="#3e302a" opacity="0.6"/>
<path d="M25.8 22.8 Q30 26.5 34.2 22.8 Q30 24.6 25.8 22.8Z" fill="#fff"/>
</g></svg>
<div style="position:absolute;left:208.3px;top:1081.9px;width:19.4px;height:19.4px;border-radius:50%;background:#5cb85c;border:2.5px solid #fff"></div>
<div class="t" style="left:252.2px;top:1055.6px;font-size:20.4px;color:#43729a;">Identifier un nouveau moyen pour contrôle des dépenses</div>
<svg style="position:absolute;left:1088.0px;top:1050.1px;" width="30.0" height="30.0" viewBox="0 0 30 30"><circle cx="15" cy="15" r="13.2" fill="none" stroke="#3f6e96" stroke-width="2.6"/><circle cx="15" cy="9.3" r="1.9" fill="#3f6e96"/><path d="M12.2 12.6 H16.4 V19.6 H18 V21.6 H12.2 V19.6 H13.7 V14.6 H12.2 Z" fill="#3f6e96"/></svg>
<div style="position:absolute;left:764.9px;top:1100.1px;width:548.5px;height:8px;border-radius:4.0px;background:#f0f1f3;overflow:hidden"><div style="width:0.0px;height:8px;background:#5cb85c;border-radius:4.0px 0 0 4.0px"></div></div>
<svg style="position:absolute;left:1324.0px;top:1097.1px;" width="18.0" height="14.0" viewBox="0 0 18 14"><path d="M1.5 7.5 L6.8 12.5 L16.5 2" fill="none" stroke="#3f6e96" stroke-width="3.6" stroke-linejoin="miter" stroke-linecap="butt"/></svg>
<svg style="position:absolute;left:1363.5px;top:1052.1px;" width="19.0" height="21.0" viewBox="0 0 19 21"><path d="M1.5 21 V2 M1.5 3 Q6 0.5 10 3 Q14 5.5 18 3 V13 Q14 15.5 10 13 Q6 10.5 1.5 13" fill="none" stroke="#c9c9c9" stroke-width="1.6"/></svg>
<svg style="position:absolute;left:1400.0px;top:1049.1px;" width="27.0" height="27.0" viewBox="0 0 27 27"><rect x="0.80" y="0.80" width="10.01" height="10.01" fill="none" stroke="#c9c9c9" stroke-width="1.6"/><rect x="0.80" y="16.19" width="10.01" height="10.01" fill="none" stroke="#c9c9c9" stroke-width="1.6"/><rect x="16.19" y="0.80" width="10.01" height="10.01" fill="none" stroke="#c9c9c9" stroke-width="1.6"/><rect x="16.19" y="16.19" width="10.01" height="10.01" fill="none" stroke="#c9c9c9" stroke-width="1.6"/></svg>
<div style="position:absolute;left:1444.5px;top:1046.9px;width:27.4px;height:27.4px;border-radius:50%;background:#cccccc"></div>
<svg style="position:absolute;left:1372.5px;top:1113.1px;" width="41.0" height="33.0" viewBox="0 0 41 33"><path d="M31.46 20.45 A11.0 9.2 0 1 1 36.37 17.46 Q36.5 20.5 39.8 23.6 Q34.5 23.2 31.46 20.45 Z" fill="none" stroke="#cdcdcd" stroke-width="2.7" stroke-linejoin="round"/><path d="M13.98 10.41 A11.0 9.2 0 0 0 6.83 26.85 Q4.5 30 1.3 32 Q6.5 30.8 10.94 28.53 A11.0 9.2 0 0 0 23.31 23.92" fill="none" stroke="#cdcdcd" stroke-width="2.7" stroke-linejoin="round"/></svg>
<svg style="position:absolute;left:1437.0px;top:1112.6px;" width="30.0" height="34.0" viewBox="0 0 30 34"><path d="M26.02 19.18 L15.05 29.41 A7.4 7.4 0 0 1 4.95 18.59 L17.75 6.65 A4.9 4.9 0 0 1 24.44 13.82 L12.22 25.21 A1.9 1.9 0 0 1 9.63 22.43 L18.19 14.45" fill="none" stroke="#cdcdcd" stroke-width="2.8" stroke-linecap="round"/></svg>
<div class="t" style="right:1632.4px;top:1053.3px;font-size:20.4px;color:#4b7196;">04/03/2023</div>
<div style="position:absolute;left:1257.4px;top:1048.3px;width:76.6px;height:30.3px;background:#dc6464;border-radius:7px"></div>
<div class="t" style="left:795.7px;width:1000px;text-align:center;top:1053.2px;font-size:20.4px;color:#fff;">+ 2 j</div>
<div class="t" style="left:252.8px;top:1129.1px;font-size:20.4px;color:#333;">1 sous-action(s)</div>
<div style="position:absolute;left:111.0px;top:1156.0px;width:1244.0px;height:106.0px;background:#fff"></div>
<div style="position:absolute;left:1355.0px;top:1156.0px;width:125.0px;height:106.0px;background:#ededed"></div>
<div style="position:absolute;left:120.8px;top:1190.0px;width:33.5px;height:33.5px;box-sizing:border-box;border:2px solid #c3c3c3;border-radius:6px;background:#fff"></div>
<svg style="position:absolute;left:171.5px;top:1173.7px;" width="58.0" height="58.0" viewBox="0 0 60 60"><defs><clipPath id="ac7"><circle cx="30" cy="30" r="30"/></clipPath>
<linearGradient id="ag7" x1="0" y1="0" x2="0" y2="1"><stop offset="0" stop-color="#c9ccd0"/><stop offset="1" stop-color="#a3a7ab"/></linearGradient></defs>
<g clip-path="url(#ac7)"><rect width="60" height="60" fill="url(#ag7)"/>
<path d="M3 64 C3 45 11 39.5 22 37 L30 40 L38 37 C49 39.5 57 45 57 64 Z" fill="#f2f2f2"/>
<path d="M5 55 Q17 49.5 30 53.5 Q43 49.5 55 55 L57 64 L3 64 Z" fill="#d9a487"/>
<path d="M25.5 27 H34.5 V38 Q30 41 25.5 38 Z" fill="#c28767"/>
<ellipse cx="30" cy="19.5" rx="8.3" ry="10.2" fill="#d29a77"/>
<path d="M21.6 18 Q20.8 5.6 30 5.4 Q39.2 5.6 38.4 18 Q37.2 11 30 11.2 Q22.8 11 21.6 18 Z" fill="#2a221e"/>
<path d="M22 21 Q22.5 30.5 30 31 Q37.5 30.5 38 21 Q36.5 27.8 30 28 Q23.5 27.8 22 21Z" fill="#3e302a" opacity="0.6"/>
<path d="M25.8 22.8 Q30 26.5 34.2 22.8 Q30 24.6 25.8 22.8Z" fill="#fff"/>
</g></svg>
<div style="position:absolute;left:208.3px;top:1207.3px;width:19.4px;height:19.4px;border-radius:50%;background:#5cb85c;border:2.5px solid #fff"></div>
<div class="t" style="left:252.2px;top:1181.0px;font-size:20.4px;color:#43729a;">Rupture : faire l'inventier et l'analyse des causes</div>
<svg style="position:absolute;left:1088.0px;top:1175.5px;" width="30.0" height="30.0" viewBox="0 0 30 30"><circle cx="15" cy="15" r="13.2" fill="none" stroke="#3f6e96" stroke-width="2.6"/><circle cx="15" cy="9.3" r="1.9" fill="#3f6e96"/><path d="M12.2 12.6 H16.4 V19.6 H18 V21.6 H12.2 V19.6 H13.7 V14.6 H12.2 Z" fill="#3f6e96"/></svg>
<div class="t" style="right:1589.0px;top:1179.2px;font-size:20.4px;color:#4b7196;">04/03/2023</div>
<div style="position:absolute;left:764.9px;top:1225.5px;width:548.5px;height:8px;border-radius:4.0px;background:#e9eaed;overflow:hidden"><div style="width:548.5px;height:8px;background:#5cb85c;border-radius:4.0px 0 0 4.0px"></div></div>
<svg style="position:absolute;left:1324.0px;top:1222.5px;" width="18.0" height="14.0" viewBox="0 0 18 14"><path d="M1.5 7.5 L6.8 12.5 L16.5 2" fill="none" stroke="#3f6e96" stroke-width="3.6" stroke-linejoin="miter" stroke-linecap="butt"/></svg>
<svg style="position:absolute;left:1363.5px;top:1177.5px;" width="19.0" height="21.0" viewBox="0 0 19 21"><path d="M1.5 21 V2 M1.5 3 Q6 0.5 10 3 Q14 5.5 18 3 V13 Q14 15.5 10 13 Q6 10.5 1.5 13" fill="none" stroke="#c9c9c9" stroke-width="1.6"/></svg>
<svg style="position:absolute;left:1400.0px;top:1174.5px;" width="27.0" height="27.0" viewBox="0 0 27 27"><rect x="0.80" y="0.80" width="10.01" height="10.01" fill="none" stroke="#c9c9c9" stroke-width="1.6"/><rect x="0.80" y="16.19" width="10.01" height="10.01" fill="none" stroke="#c9c9c9" stroke-width="1.6"/><rect x="16.19" y="0.80" width="10.01" height="10.01" fill="none" stroke="#c9c9c9" stroke-width="1.6"/><rect x="16.19" y="16.19" width="10.01" height="10.01" fill="none" stroke="#c9c9c9" stroke-width="1.6"/></svg>
<div style="position:absolute;left:1444.5px;top:1172.3px;width:27.4px;height:27.4px;border-radius:50%;background:#cccccc"></div>
<svg style="position:absolute;left:1372.5px;top:1218.5px;" width="41.0" height="33.0" viewBox="0 0 41 33"><path d="M31.46 20.45 A11.0 9.2 0 1 1 36.37 17.46 Q36.5 20.5 39.8 23.6 Q34.5 23.2 31.46 20.45 Z" fill="none" stroke="#cdcdcd" stroke-width="2.7" stroke-linejoin="round"/><path d="M13.98 10.41 A11.0 9.2 0 0 0 6.83 26.85 Q4.5 30 1.3 32 Q6.5 30.8 10.94 28.53 A11.0 9.2 0 0 0 23.31 23.92" fill="none" stroke="#cdcdcd" stroke-width="2.7" stroke-linejoin="round"/></svg>
<svg style="position:absolute;left:1437.0px;top:1218.0px;" width="30.0" height="34.0" viewBox="0 0 30 34"><path d="M26.02 19.18 L15.05 29.41 A7.4 7.4 0 0 1 4.95 18.59 L17.75 6.65 A4.9 4.9 0 0 1 24.44 13.82 L12.22 25.21 A1.9 1.9 0 0 1 9.63 22.43 L18.19 14.45" fill="none" stroke="#cdcdcd" stroke-width="2.8" stroke-linecap="round"/></svg>
<div style="position:absolute;left:111.0px;top:1262.0px;width:1244.0px;height:106.2px;background:#fff"></div>
<div style="position:absolute;left:1355.0px;top:1262.0px;width:125.0px;height:106.2px;background:#ededed"></div>
<div style="position:absolute;left:120.8px;top:1296.0px;width:33.5px;height:33.5px;box-sizing:border-box;border:2px solid #c3c3c3;border-radius:6px;background:#fff"></div>
<svg style="position:absolute;left:171.5px;top:1279.7px;" width="58.0" height="58.0" viewBox="0 0 60 60"><defs><clipPath id="ac8"><circle cx="30" cy="30" r="30"/></clipPath>
<linearGradient id="ag8" x1="0" y1="0" x2="0" y2="1"><stop offset="0" stop-color="#c9ccd0"/><stop offset="1" stop-color="#a3a7ab"/></linearGradient></defs>
<g clip-path="url(#ac8)"><rect width="60" height="60" fill="url(#ag8)"/>
<path d="M3 64 C3 45 11 39.5 22 37 L30 40 L38 37 C49 39.5 57 45 57 64 Z" fill="#f2f2f2"/>
<path d="M5 55 Q17 49.5 30 53.5 Q43 49.5 55 55 L57 64 L3 64 Z" fill="#d9a487"/>
<path d="M25.5 27 H34.5 V38 Q30 41 25.5 38 Z" fill="#c28767"/>
<ellipse cx="30" cy="19.5" rx="8.3" ry="10.2" fill="#d29a77"/>
<path d="M21.6 18 Q20.8 5.6 30 5.4 Q39.2 5.6 38.4 18 Q37.2 11 30 11.2 Q22.8 11 21.6 18 Z" fill="#2a221e"/>
<path d="M22 21 Q22.5 30.5 30 31 Q37.5 30.5 38 21 Q36.5 27.8 30 28 Q23.5 27.8 22 21Z" fill="#3e302a" opacity="0.6"/>
<path d="M25.8 22.8 Q30 26.5 34.2 22.8 Q30 24.6 25.8 22.8Z" fill="#fff"/>
</g></svg>
<div style="position:absolute;left:208.3px;top:1313.3px;width:19.4px;height:19.4px;border-radius:50%;background:#5cb85c;border:2.5px solid #fff"></div>
<div class="t" style="left:252.2px;top:1287.0px;font-size:20.4px;color:#43729a;">Action événementielle</div>
<svg style="position:absolute;left:1088.0px;top:1281.5px;" width="30.0" height="30.0" viewBox="0 0 30 30"><circle cx="15" cy="15" r="13.2" fill="none" stroke="#3f6e96" stroke-width="2.6"/><circle cx="15" cy="9.3" r="1.9" fill="#3f6e96"/><path d="M12.2 12.6 H16.4 V19.6 H18 V21.6 H12.2 V19.6 H13.7 V14.6 H12.2 Z" fill="#3f6e96"/></svg>
<div class="t" style="right:1589.0px;top:1285.2px;font-size:20.4px;color:#4b7196;">13/03/2023</div>
<div style="position:absolute;left:764.9px;top:1331.5px;width:548.5px;height:8px;border-radius:4.0px;background:#e9eaed;overflow:hidden"><div style="width:219.4px;height:8px;background:#5cb85c;border-radius:4.0px 0 0 4.0px"></div></div>
<svg style="position:absolute;left:1324.0px;top:1328.5px;" width="18.0" height="14.0" viewBox="0 0 18 14"><path d="M1.5 7.5 L6.8 12.5 L16.5 2" fill="none" stroke="#3f6e96" stroke-width="3.6" stroke-linejoin="miter" stroke-linecap="butt"/></svg>
<svg style="position:absolute;left:1363.5px;top:1283.5px;" width="19.0" height="21.0" viewBox="0 0 19 21"><path d="M1.5 21 V2 M1.5 3 Q6 0.5 10 3 Q14 5.5 18 3 V13 Q14 15.5 10 13 Q6 10.5 1.5 13" fill="none" stroke="#c9c9c9" stroke-width="1.6"/></svg>
<svg style="position:absolute;left:1400.0px;top:1280.5px;" width="27.0" height="27.0" viewBox="0 0 27 27"><rect x="0.80" y="0.80" width="10.01" height="10.01" fill="none" stroke="#c9c9c9" stroke-width="1.6"/><rect x="0.80" y="16.19" width="10.01" height="10.01" fill="none" stroke="#c9c9c9" stroke-width="1.6"/><rect x="16.19" y="0.80" width="10.01" height="10.01" fill="none" stroke="#c9c9c9" stroke-width="1.6"/><rect x="16.19" y="16.19" width="10.01" height="10.01" fill="none" stroke="#c9c9c9" stroke-width="1.6"/></svg>
<div style="position:absolute;left:1444.5px;top:1278.3px;width:27.4px;height:27.4px;border-radius:50%;background:#cccccc"></div>
<svg style="position:absolute;left:1372.5px;top:1324.5px;" width="41.0" height="33.0" viewBox="0 0 41 33"><path d="M31.46 20.45 A11.0 9.2 0 1 1 36.37 17.46 Q36.5 20.5 39.8 23.6 Q34.5 23.2 31.46 20.45 Z" fill="none" stroke="#cdcdcd" stroke-width="2.7" stroke-linejoin="round"/><path d="M13.98 10.41 A11.0 9.2 0 0 0 6.83 26.85 Q4.5 30 1.3 32 Q6.5 30.8 10.94 28.53 A11.0 9.2 0 0 0 23.31 23.92" fill="none" stroke="#cdcdcd" stroke-width="2.7" stroke-linejoin="round"/></svg>
<svg style="position:absolute;left:1437.0px;top:1324.0px;" width="30.0" height="34.0" viewBox="0 0 30 34"><path d="M26.02 19.18 L15.05 29.41 A7.4 7.4 0 0 1 4.95 18.59 L17.75 6.65 A4.9 4.9 0 0 1 24.44 13.82 L12.22 25.21 A1.9 1.9 0 0 1 9.63 22.43 L18.19 14.45" fill="none" stroke="#cdcdcd" stroke-width="2.8" stroke-linecap="round"/></svg>
<div style="position:absolute;left:111.0px;top:1368.2px;width:1244.0px;height:106.4px;background:#fff"></div>
<div style="position:absolute;left:1355.0px;top:1368.2px;width:125.0px;height:106.4px;background:#ededed"></div>
<div style="position:absolute;left:120.8px;top:1402.2px;width:33.5px;height:33.5px;box-sizing:border-box;border:2px solid #c3c3c3;border-radius:6px;background:#fff"></div>
<svg style="position:absolute;left:171.5px;top:1385.9px;" width="58.0" height="58.0" viewBox="0 0 60 60"><defs><clipPath id="ac9"><circle cx="30" cy="30" r="30"/></clipPath>
<linearGradient id="ag9" x1="0" y1="0" x2="0" y2="1"><stop offset="0" stop-color="#c9ccd0"/><stop offset="1" stop-color="#a3a7ab"/></linearGradient></defs>
<g clip-path="url(#ac9)"><rect width="60" height="60" fill="url(#ag9)"/>
<path d="M3 64 C3 45 11 39.5 22 37 L30 40 L38 37 C49 39.5 57 45 57 64 Z" fill="#f2f2f2"/>
<path d="M5 55 Q17 49.5 30 53.5 Q43 49.5 55 55 L57 64 L3 64 Z" fill="#d9a487"/>
<path d="M25.5 27 H34.5 V38 Q30 41 25.5 38 Z" fill="#c28767"/>
<ellipse cx="30" cy="19.5" rx="8.3" ry="10.2" fill="#d29a77"/>
<path d="M21.6 18 Q20.8 5.6 30 5.4 Q39.2 5.6 38.4 18 Q37.2 11 30 11.2 Q22.8 11 21.6 18 Z" fill="#2a221e"/>
<path d="M22 21 Q22.5 30.5 30 31 Q37.5 30.5 38 21 Q36.5 27.8 30 28 Q23.5 27.8 22 21Z" fill="#3e302a" opacity="0.6"/>
<path d="M25.8 22.8 Q30 26.5 34.2 22.8 Q30 24.6 25.8 22.8Z" fill="#fff"/>
</g></svg>
<div style="position:absolute;left:208.3px;top:1419.5px;width:19.4px;height:19.4px;border-radius:50%;background:#5cb85c;border:2.5px solid #fff"></div>
<div class="t" style="left:252.2px;top:1393.2px;font-size:20.4px;color:#43729a;">INVESTISSEMENTS DIGITAUX</div>
<svg style="position:absolute;left:1088.0px;top:1387.7px;" width="30.0" height="30.0" viewBox="0 0 30 30"><circle cx="15" cy="15" r="13.2" fill="none" stroke="#3f6e96" stroke-width="2.6"/><circle cx="15" cy="9.3" r="1.9" fill="#3f6e96"/><path d="M12.2 12.6 H16.4 V19.6 H18 V21.6 H12.2 V19.6 H13.7 V14.6 H12.2 Z" fill="#3f6e96"/></svg>
<div class="t" style="right:1589.0px;top:1391.4px;font-size:20.4px;color:#4b7196;">06/04/2023</div>
<div style="position:absolute;left:764.9px;top:1437.7px;width:548.5px;height:8px;border-radius:4.0px;background:#e9eaed;overflow:hidden"><div style="width:0.0px;height:8px;background:#5cb85c;border-radius:4.0px 0 0 4.0px"></div></div>
<svg style="position:absolute;left:1324.0px;top:1434.7px;" width="18.0" height="14.0" viewBox="0 0 18 14"><path d="M1.5 7.5 L6.8 12.5 L16.5 2" fill="none" stroke="#3f6e96" stroke-width="3.6" stroke-linejoin="miter" stroke-linecap="butt"/></svg>
<svg style="position:absolute;left:1363.5px;top:1389.7px;" width="19.0" height="21.0" viewBox="0 0 19 21"><path d="M1.5 21 V2 M1.5 3 Q6 0.5 10 3 Q14 5.5 18 3 V13 Q14 15.5 10 13 Q6 10.5 1.5 13" fill="none" stroke="#c9c9c9" stroke-width="1.6"/></svg>
<svg style="position:absolute;left:1400.0px;top:1386.7px;" width="27.0" height="27.0" viewBox="0 0 27 27"><rect x="0.80" y="0.80" width="10.01" height="10.01" fill="none" stroke="#c9c9c9" stroke-width="1.6"/><rect x="0.80" y="16.19" width="10.01" height="10.01" fill="none" stroke="#c9c9c9" stroke-width="1.6"/><rect x="16.19" y="0.80" width="10.01" height="10.01" fill="none" stroke="#c9c9c9" stroke-width="1.6"/><rect x="16.19" y="16.19" width="10.01" height="10.01" fill="none" stroke="#c9c9c9" stroke-width="1.6"/></svg>
<div style="position:absolute;left:1444.5px;top:1384.5px;width:27.4px;height:27.4px;border-radius:50%;background:#cccccc"></div>
<svg style="position:absolute;left:1372.5px;top:1430.7px;" width="41.0" height="33.0" viewBox="0 0 41 33"><path d="M31.46 20.45 A11.0 9.2 0 1 1 36.37 17.46 Q36.5 20.5 39.8 23.6 Q34.5 23.2 31.46 20.45 Z" fill="none" stroke="#cdcdcd" stroke-width="2.7" stroke-linejoin="round"/><path d="M13.98 10.41 A11.0 9.2 0 0 0 6.83 26.85 Q4.5 30 1.3 32 Q6.5 30.8 10.94 28.53 A11.0 9.2 0 0 0 23.31 23.92" fill="none" stroke="#cdcdcd" stroke-width="2.7" stroke-linejoin="round"/></svg>
<svg style="position:absolute;left:1437.0px;top:1430.2px;" width="30.0" height="34.0" viewBox="0 0 30 34"><path d="M26.02 19.18 L15.05 29.41 A7.4 7.4 0 0 1 4.95 18.59 L17.75 6.65 A4.9 4.9 0 0 1 24.44 13.82 L12.22 25.21 A1.9 1.9 0 0 1 9.63 22.43 L18.19 14.45" fill="none" stroke="#cdcdcd" stroke-width="2.8" stroke-linecap="round"/></svg>
<div style="position:absolute;left:111.0px;top:1475.0px;width:1369.0px;height:34.5px;background:#5a8cb6"></div>
<div class="t" style="left:137.5px;top:1480.0px;font-size:20.4px;color:#fff;">La semaine prochaine</div>
<div style="position:absolute;left:111.0px;top:1509.5px;width:1244.0px;height:106.5px;background:#fff"></div>
<div style="position:absolute;left:1355.0px;top:1509.5px;width:125.0px;height:106.5px;background:#ededed"></div>
<div style="position:absolute;left:120.8px;top:1543.5px;width:33.5px;height:33.5px;box-sizing:border-box;border:2px solid #c3c3c3;border-radius:6px;background:#fff"></div>
<svg style="position:absolute;left:171.5px;top:1527.2px;" width="58.0" height="58.0" viewBox="0 0 60 60"><defs><clipPath id="ac10"><circle cx="30" cy="30" r="30"/></clipPath>
<linearGradient id="ag10" x1="0" y1="0" x2="0" y2="1"><stop offset="0" stop-color="#c9ccd0"/><stop offset="1" stop-color="#a3a7ab"/></linearGradient></defs>
<g clip-path="url(#ac10)"><rect width="60" height="60" fill="url(#ag10)"/>
<path d="M3 64 C3 45 11 39.5 22 37 L30 40 L38 37 C49 39.5 57 45 57 64 Z" fill="#f2f2f2"/>
<path d="M5 55 Q17 49.5 30 53.5 Q43 49.5 55 55 L57 64 L3 64 Z" fill="#d9a487"/>
<path d="M25.5 27 H34.5 V38 Q30 41 25.5 38 Z" fill="#c28767"/>
<ellipse cx="30" cy="19.5" rx="8.3" ry="10.2" fill="#d29a77"/>
<path d="M21.6 18 Q20.8 5.6 30 5.4 Q39.2 5.6 38.4 18 Q37.2 11 30 11.2 Q22.8 11 21.6 18 Z" fill="#2a221e"/>
<path d="M22 21 Q22.5 30.5 30 31 Q37.5 30.5 38 21 Q36.5 27.8 30 28 Q23.5 27.8 22 21Z" fill="#3e302a" opacity="0.6"/>
<path d="M25.8 22.8 Q30 26.5 34.2 22.8 Q30 24.6 25.8 22.8Z" fill="#fff"/>
</g></svg>
<div style="position:absolute;left:208.3px;top:1560.8px;width:19.4px;height:19.4px;border-radius:50%;background:#5cb85c;border:2.5px solid #fff"></div>
<div class="t" style="left:252.2px;top:1532.5px;font-size:20.4px;color:#43729a;">Préparer le salon du vélo 2023</div>
<svg style="position:absolute;left:1088.0px;top:1529.0px;" width="30.0" height="30.0" viewBox="0 0 30 30"><circle cx="15" cy="15" r="13.2" fill="none" stroke="#3f6e96" stroke-width="2.6"/><circle cx="15" cy="9.3" r="1.9" fill="#3f6e96"/><path d="M12.2 12.6 H16.4 V19.6 H18 V21.6 H12.2 V19.6 H13.7 V14.6 H12.2 Z" fill="#3f6e96"/></svg>
<div class="t" style="right:1589.0px;top:1532.7px;font-size:20.4px;color:#4b7196;">11/03/2023</div>
<div style="position:absolute;left:764.9px;top:1579.0px;width:548.5px;height:8px;border-radius:4.0px;background:#e9eaed;overflow:hidden"><div style="width:0.0px;height:8px;background:#5cb85c;border-radius:4.0px 0 0 4.0px"></div></div>
<svg style="position:absolute;left:1324.0px;top:1576.0px;" width="18.0" height="14.0" viewBox="0 0 18 14"><path d="M1.5 7.5 L6.8 12.5 L16.5 2" fill="none" stroke="#3f6e96" stroke-width="3.6" stroke-linejoin="miter" stroke-linecap="butt"/></svg>
<svg style="position:absolute;left:1363.5px;top:1531.0px;" width="19.0" height="21.0" viewBox="0 0 19 21"><path d="M1.5 21 V2 M1.5 3 Q6 0.5 10 3 Q14 5.5 18 3 V13 Q14 15.5 10 13 Q6 10.5 1.5 13" fill="none" stroke="#c9c9c9" stroke-width="1.6"/></svg>
<svg style="position:absolute;left:1400.0px;top:1528.0px;" width="27.0" height="27.0" viewBox="0 0 27 27"><rect x="0.80" y="0.80" width="10.01" height="10.01" fill="none" stroke="#c9c9c9" stroke-width="1.6"/><rect x="0.80" y="16.19" width="10.01" height="10.01" fill="none" stroke="#c9c9c9" stroke-width="1.6"/><rect x="16.19" y="0.80" width="10.01" height="10.01" fill="none" stroke="#c9c9c9" stroke-width="1.6"/><rect x="16.19" y="16.19" width="10.01" height="10.01" fill="none" stroke="#c9c9c9" stroke-width="1.6"/></svg>
<div style="position:absolute;left:1444.5px;top:1525.8px;width:27.4px;height:27.4px;border-radius:50%;background:#cccccc"></div>
<svg style="position:absolute;left:1372.5px;top:1572.0px;" width="41.0" height="33.0" viewBox="0 0 41 33"><path d="M31.46 20.45 A11.0 9.2 0 1 1 36.37 17.46 Q36.5 20.5 39.8 23.6 Q34.5 23.2 31.46 20.45 Z" fill="none" stroke="#cdcdcd" stroke-width="2.7" stroke-linejoin="round"/><path d="M13.98 10.41 A11.0 9.2 0 0 0 6.83 26.85 Q4.5 30 1.3 32 Q6.5 30.8 10.94 28.53 A11.0 9.2 0 0 0 23.31 23.92" fill="none" stroke="#cdcdcd" stroke-width="2.7" stroke-linejoin="round"/></svg>
<svg style="position:absolute;left:1437.0px;top:1571.5px;" width="30.0" height="34.0" viewBox="0 0 30 34"><path d="M26.02 19.18 L15.05 29.41 A7.4 7.4 0 0 1 4.95 18.59 L17.75 6.65 A4.9 4.9 0 0 1 24.44 13.82 L12.22 25.21 A1.9 1.9 0 0 1 9.63 22.43 L18.19 14.45" fill="none" stroke="#cdcdcd" stroke-width="2.8" stroke-linecap="round"/></svg>
<div style="position:absolute;left:111.0px;top:317.5px;width:1369.0px;height:1.6px;background:#d3d3d3"></div>
<div style="position:absolute;left:197.0px;top:423.9px;width:1283.0px;height:1.6px;background:#d3d3d3"></div>
<div style="position:absolute;left:197.0px;top:781.7px;width:1283.0px;height:1.6px;background:#d3d3d3"></div>
<div style="position:absolute;left:111.0px;top:888.6px;width:1369.0px;height:1.6px;background:#d3d3d3"></div>
<div style="position:absolute;left:111.0px;top:994.8px;width:1369.0px;height:1.6px;background:#d3d3d3"></div>
<div style="position:absolute;left:111.0px;top:1155.2px;width:1369.0px;height:1.6px;background:#d3d3d3"></div>
<div style="position:absolute;left:111.0px;top:1261.2px;width:1369.0px;height:1.6px;background:#d3d3d3"></div>
<div style="position:absolute;left:111.0px;top:1367.4px;width:1369.0px;height:1.6px;background:#d3d3d3"></div>
<div style="position:absolute;left:111.0px;top:1473.8px;width:1369.0px;height:1.6px;background:#d3d3d3"></div>
<div style="position:absolute;left:111.0px;top:675.6px;width:1369.0px;height:1.2px;background:#d3d3d3"></div>
<div style="position:absolute;left:111.0px;top:301.9px;width:1369.0px;height:5.4px;background:linear-gradient(#e3e3e3,#e8e8e8)"></div>
</div>
<div style="position:absolute;left:111.0px;top:1536.2px;width:1369.0px;height:1.6px;background:#d0d0d0"></div>
<div style="position:absolute;left:111.0px;top:1557.6px;width:1369.0px;height:1.8px;background:#4f7da6"></div>
<div style="position:absolute;left:768.5px;top:1542.0px;width:55.3px;height:33.0px;border:3px solid #cbcbcb;border-radius:17px;background:#fff;box-sizing:border-box"></div>
<svg style="position:absolute;left:786.0px;top:1555.0px;" width="19.0" height="11.0" viewBox="0 0 19 11"><path d="M1.5 9.5 L9.5 2 L17.5 9.5" fill="none" stroke="#3f6e96" stroke-width="3.6"/></svg>
<div style="position:absolute;left:120.3px;top:1580.8px;width:1046.0px;height:48.6px;border:2px solid #d3dae1;border-right:none;border-radius:6px 0 0 6px;box-sizing:border-box;background:#fff"></div>
<div class="t" style="left:137.5px;top:1594.9px;font-size:20.4px;color:#6c757d;">Libellé de l'action</div>
<div style="position:absolute;left:1166.0px;top:1580.2px;width:46.8px;height:49.1px;background:#3f88cc;border-radius:0 6px 6px 0"></div>
<svg style="position:absolute;left:1180.0px;top:1593.0px;" width="19.0" height="25.0" viewBox="0 0 19 25"><rect x="5.5" y="0.5" width="8" height="14.5" rx="4" fill="#fff"/><path d="M2 10.5 Q2 18 9.5 18 Q17 18 17 10.5" fill="none" stroke="#fff" stroke-width="1.8"/><path d="M9.5 18 V22.5 M5 23.3 H14" stroke="#fff" stroke-width="1.8"/></svg>
<div style="position:absolute;left:1230.7px;top:1579.6px;width:137.0px;height:49.2px;border:2px solid #d3dae1;border-right:none;border-radius:6px 0 0 6px;box-sizing:border-box;background:#fff"></div>
<div style="position:absolute;left:1366.0px;top:1579.6px;width:61.0px;height:49.2px;background:#3f88cc;border-radius:0 6px 6px 0"></div>
<svg style="position:absolute;left:1386.5px;top:1593.0px;" width="20.0" height="23.0" viewBox="0 0 20 23"><rect x="0.5" y="3.5" width="19" height="19" rx="2" fill="#fff"/><rect x="4" y="0" width="2.6" height="6" rx="1" fill="#fff"/><rect x="13.4" y="0" width="2.6" height="6" rx="1" fill="#fff"/><rect x="2.6" y="9.5" width="2.6" height="2.8" fill="#3f88cc"/><rect x="2.6" y="13.6" width="2.6" height="2.8" fill="#3f88cc"/><rect x="2.6" y="17.7" width="2.6" height="2.8" fill="#3f88cc"/><rect x="6.5" y="9.5" width="2.6" height="2.8" fill="#3f88cc"/><rect x="6.5" y="13.6" width="2.6" height="2.8" fill="#3f88cc"/><rect x="6.5" y="17.7" width="2.6" height="2.8" fill="#3f88cc"/><rect x="10.4" y="9.5" width="2.6" height="2.8" fill="#3f88cc"/><rect x="10.4" y="13.6" width="2.6" height="2.8" fill="#3f88cc"/><rect x="10.4" y="17.7" width="2.6" height="2.8" fill="#3f88cc"/><rect x="14.3" y="9.5" width="2.6" height="2.8" fill="#3f88cc"/><rect x="14.3" y="13.6" width="2.6" height="2.8" fill="#3f88cc"/><rect x="14.3" y="17.7" width="2.6" height="2.8" fill="#3f88cc"/></svg>
<svg style="position:absolute;left:1445.0px;top:1591.5px;" width="27.0" height="27.0" viewBox="0 0 27 27"><rect x="0.80" y="0.80" width="10.01" height="10.01" fill="none" stroke="#c9c9c9" stroke-width="1.6"/><rect x="0.80" y="16.19" width="10.01" height="10.01" fill="none" stroke="#c9c9c9" stroke-width="1.6"/><rect x="16.19" y="0.80" width="10.01" height="10.01" fill="none" stroke="#c9c9c9" stroke-width="1.6"/><rect x="16.19" y="16.19" width="10.01" height="10.01" fill="none" stroke="#c9c9c9" stroke-width="1.6"/></svg>
<svg style="position:absolute;left:1519.5px;top:117.7px;" width="26.0" height="26.0" viewBox="0 0 26 26"><circle cx="13" cy="13" r="13" fill="#5cb85c"/><path d="M7 13.5 L11 17.2 L19 9" fill="none" stroke="#fff" stroke-width="3"/></svg>
<div class="t" style="left:1562.0px;top:118.8px;font-size:25.8px;color:#44739b;font-weight:bold;">VENTES PRIVEES - S1 2022</div>
<div style="position:absolute;left:1572.0px;top:189.6px;width:41.5px;height:44.7px;border:2px solid #d2d2d2;border-radius:5px;box-sizing:border-box;background:#fff"></div>
<div style="position:absolute;left:1623.3px;top:189.6px;width:41.5px;height:44.7px;border:2px solid #d2d2d2;border-radius:5px;box-sizing:border-box;background:#fff"></div>
<div style="position:absolute;left:1674.6px;top:189.6px;width:41.5px;height:44.7px;border:2px solid #d2d2d2;border-radius:5px;box-sizing:border-box;background:#fff"></div>
<div style="position:absolute;left:1726.0px;top:189.6px;width:41.5px;height:44.7px;border:2px solid #d2d2d2;border-radius:5px;box-sizing:border-box;background:#fff"></div>
<svg style="position:absolute;left:1584.0px;top:200.0px;" width="17.0" height="22.0" viewBox="0 0 17 22"><rect x="0" y="2.5" width="17" height="2.6" fill="#474747"/><rect x="5.5" y="0" width="6" height="3" rx="1" fill="#474747"/><path d="M1.5 6.5 H15.5 L14.3 20.5 Q14.2 22 12.7 22 H4.3 Q2.8 22 2.7 20.5 Z" fill="#474747"/><path d="M6 9 V19 M8.5 9 V19 M11 9 V19" stroke="#fff" stroke-width="1.2"/></svg>
<svg style="position:absolute;left:1634.7px;top:201.0px;" width="15.5" height="20.5" viewBox="0 0 15.5 20.5"><path d="M0 2 Q0 0 2 0 H10 L15.5 5.5 V18.5 Q15.5 20.5 13.5 20.5 H2 Q0 20.5 0 18.5 Z" fill="#474747"/><path d="M10 0 V5.5 H15.5" fill="#fff"/><path d="M10.6 0.6 V4.9 H14.9" fill="none" stroke="#474747" stroke-width="0.9"/><text x="7.7" y="15.6" text-anchor="middle" font-family="Liberation Sans, Arial" font-size="6.6" font-weight="bold" fill="#fff" textLength="12.5" lengthAdjust="spacingAndGlyphs">PDF</text></svg>
<svg style="position:absolute;left:1686.0px;top:203.5px;" width="20.5" height="15.7" viewBox="0 0 20.5 15.7"><rect x="0" y="0" width="20.5" height="15.7" rx="2.5" fill="#474747"/><path d="M1.2 2.8 L10.25 9.2 L19.3 2.8" fill="none" stroke="#fff" stroke-width="1.5"/></svg>
<svg style="position:absolute;left:1736.5px;top:201.5px;" width="21.0" height="21.0" viewBox="0 0 21 21"><rect x="6" y="0" width="15" height="15" rx="3" fill="#474747"/><path d="M4 6 H2.5 Q1 6 1 7.5 V18.5 Q1 20 2.5 20 H13.5 Q15 20 15 18.5 V17" fill="none" stroke="#474747" stroke-width="2.4"/></svg>
<div style="position:absolute;left:1519.0px;top:252.9px;width:1352.0px;height:2.2px;background:#ececec"></div>
<svg style="position:absolute;left:1520.5px;top:263.0px;" width="58.0" height="58.0" viewBox="0 0 60 60"><defs><clipPath id="ac11"><circle cx="30" cy="30" r="30"/></clipPath>
<linearGradient id="ag11" x1="0" y1="0" x2="0" y2="1"><stop offset="0" stop-color="#c9ccd0"/><stop offset="1" stop-color="#a3a7ab"/></linearGradient></defs>
<g clip-path="url(#ac11)"><rect width="60" height="60" fill="url(#ag11)"/>
<path d="M3 64 C3 45 11 39.5 22 37 L30 40 L38 37 C49 39.5 57 45 57 64 Z" fill="#f2f2f2"/>
<path d="M5 55 Q17 49.5 30 53.5 Q43 49.5 55 55 L57 64 L3 64 Z" fill="#d9a487"/>
<path d="M25.5 27 H34.5 V38 Q30 41 25.5 38 Z" fill="#c28767"/>
<ellipse cx="30" cy="19.5" rx="8.3" ry="10.2" fill="#d29a77"/>
<path d="M21.6 18 Q20.8 5.6 30 5.4 Q39.2 5.6 38.4 18 Q37.2 11 30 11.2 Q22.8 11 21.6 18 Z" fill="#2a221e"/>
<path d="M22 21 Q22.5 30.5 30 31 Q37.5 30.5 38 21 Q36.5 27.8 30 28 Q23.5 27.8 22 21Z" fill="#3e302a" opacity="0.6"/>
<path d="M25.8 22.8 Q30 26.5 34.2 22.8 Q30 24.6 25.8 22.8Z" fill="#fff"/>
</g></svg>
<div style="position:absolute;left:1555.8px;top:296.4px;width:19.4px;height:19.4px;border-radius:50%;background:#5cb85c;border:2.5px solid #fff"></div>
<div style="position:absolute;left:1592.2px;top:286.8px;width:818.5px;height:10px;border-radius:6.0px;background:#f3f4f3;border:1px solid #d6d8d6;overflow:hidden"><div style="width:486.1px;height:10px;background:#a3d4a3"></div></div>
<div style="position:absolute;left:1754.7px;top:283.8px;width:2.6px;height:18px;background:#8f8f8f"></div>
<div style="position:absolute;left:1918.4px;top:283.8px;width:2.6px;height:18px;background:#8f8f8f"></div>
<div style="position:absolute;left:2245.8px;top:283.8px;width:2.6px;height:18px;background:#8f8f8f"></div>
<div style="position:absolute;left:2079.9px;top:279.8px;width:31.5px;height:24px;border-radius:4px;background:rgba(150,150,150,0.16)"><div style="position:absolute;left:10.5px;top:1px;width:1.2px;height:22px;background:rgba(255,255,255,0.55)"></div><div style="position:absolute;left:19px;top:1px;width:1.2px;height:22px;background:rgba(255,255,255,0.55)"></div><div style="position:absolute;left:2.5px;top:5px;width:2.6px;height:16px;background:#b9b9b9"></div></div>
<svg style="position:absolute;left:2446.0px;top:285.0px;" width="18.0" height="14.0" viewBox="0 0 18 14"><path d="M1.5 7.5 L6.8 12.5 L16.5 2" fill="none" stroke="#3f6e96" stroke-width="3.6" stroke-linejoin="miter" stroke-linecap="butt"/></svg>
<svg style="position:absolute;left:2473.5px;top:281.5px;" width="25.0" height="24.0" viewBox="0 0 25 24"><path d="M3.5 11 A9 9 0 0 1 19.5 6" fill="none" stroke="#41709a" stroke-width="3.6"/><path d="M21.5 1 V9.5 H13 Z" fill="#41709a"/><path d="M21 13 A9 9 0 0 1 5 18" fill="none" stroke="#41709a" stroke-width="3.6"/><path d="M3 23 V14.5 H11.5 Z" fill="#41709a"/></svg>
<svg style="position:absolute;left:2488.0px;top:300.6px;" width="16.0" height="16.0" viewBox="0 0 16 16"><circle cx="8" cy="8" r="7.3" fill="#3cb54a" stroke="#fff" stroke-width="1.2"/><path d="M8 3.8 V12.2 M3.8 8 H12.2" stroke="#fff" stroke-width="2.4"/></svg>
<div class="t" style="right:202.8px;top:281.5px;font-size:20.4px;color:#4b7196;">07/03/2023</div>
<svg style="position:absolute;left:2745.0px;top:283.0px;" width="19.0" height="21.0" viewBox="0 0 19 21"><path d="M1.5 21 V2 M1.5 3 Q6 0.5 10 3 Q14 5.5 18 3 V13 Q14 15.5 10 13 Q6 10.5 1.5 13" fill="none" stroke="#c9c9c9" stroke-width="1.6"/></svg>
<svg style="position:absolute;left:2783.0px;top:279.0px;" width="27.0" height="27.0" viewBox="0 0 27 27"><rect x="0.80" y="0.80" width="10.01" height="10.01" fill="none" stroke="#c9c9c9" stroke-width="1.6"/><rect x="0.80" y="16.19" width="10.01" height="10.01" fill="none" stroke="#c9c9c9" stroke-width="1.6"/><rect x="16.19" y="0.80" width="10.01" height="10.01" fill="none" stroke="#c9c9c9" stroke-width="1.6"/><rect x="16.19" y="16.19" width="10.01" height="10.01" fill="none" stroke="#c9c9c9" stroke-width="1.6"/></svg>
<div style="position:absolute;left:2826.7px;top:277.9px;width:27.2px;height:27.2px;border-radius:50%;background:#cccccc"></div>
<div style="position:absolute;left:1503.3px;top:331.7px;width:174.5px;height:49.5px;background:#fff;border:2px solid #cdcdcd;border-bottom:none;border-radius:6px 6px 0 0;box-sizing:border-box"></div>
<div class="t" style="left:1543.0px;top:348.8px;font-size:20.4px;color:#43729a;">Informations</div>
<div style="position:absolute;left:1683.9px;top:331.7px;width:207.8px;height:48.5px;background:#f3f3f3;border:2px solid #cdcdcd;border-radius:6px 6px 0 0;box-sizing:border-box"></div>
<div class="t" style="left:1736.7px;top:348.8px;font-size:20.4px;color:#43729a;">Commentaires</div>
<div style="position:absolute;left:1898.0px;top:331.7px;width:173.7px;height:48.5px;background:#f3f3f3;border:2px solid #cdcdcd;border-radius:6px 6px 0 0;box-sizing:border-box"></div>
<div class="t" style="left:1946.7px;top:348.8px;font-size:20.4px;color:#43729a;">Documents</div>
<div style="position:absolute;left:2077.8px;top:331.7px;width:189.5px;height:48.5px;background:#f3f3f3;border:2px solid #cdcdcd;border-radius:6px 6px 0 0;box-sizing:border-box"></div>
<div class="t" style="left:2128.3px;top:348.8px;font-size:20.4px;color:#43729a;">Sous actions</div>
<div style="position:absolute;left:2273.7px;top:331.7px;width:164.0px;height:48.5px;background:#f3f3f3;border:2px solid #cdcdcd;border-radius:6px 6px 0 0;box-sizing:border-box"></div>
<div class="t" style="left:2323.8px;top:348.8px;font-size:20.4px;color:#43729a;">Historique</div>
<div style="position:absolute;left:2444.0px;top:331.7px;width:116.8px;height:48.5px;background:#f3f3f3;border:2px solid #cdcdcd;border-radius:6px 6px 0 0;box-sizing:border-box"></div>
<div class="t" style="left:2492.4px;top:348.8px;font-size:20.4px;color:#43729a;">Audit</div>
<div style="position:absolute;left:1503.0px;top:378.7px;width:1368.0px;height:1.8px;background:#cccccc"></div>
<svg style="position:absolute;left:1524.4px;top:349.0px;" width="9.0" height="18.0" viewBox="0 0 9 18"><circle cx="4.5" cy="2.3" r="2.3" fill="#41709a"/><path d="M0.5 6 H6.5 V15.3 H8.5 V18 H0.5 V15.3 H2.5 V8.7 H0.5 Z" fill="#41709a"/></svg>
<svg style="position:absolute;left:1705.5px;top:348.0px;" width="22.0" height="20.0" viewBox="0 0 22 20"><g fill="none" stroke="#41709a" stroke-width="2"><path d="M8.5 1.5 C4 1.5 1.2 4 1.2 7 C1.2 8.6 2 10 3.3 11 L2.3 14.2 L6.2 12.2 C7 12.4 7.8 12.5 8.5 12.5 C13 12.5 15.8 10 15.8 7 C15.8 4 13 1.5 8.5 1.5 Z"/><path d="M17.2 6.5 C19.5 7.5 20.8 9.2 20.8 11.2 C20.8 12.6 20.2 13.8 19 14.7 L20 18 L16 16 C15.2 16.2 14.5 16.3 13.7 16.3 C11.4 16.3 9.6 15.5 8.5 14.2"/></g></svg>
<svg style="position:absolute;left:1919.4px;top:348.0px;" width="17.0" height="21.0" viewBox="0 0 17 21"><path d="M12.5 6.5 L5.5 13.8 Q4 15.4 5.5 16.8 Q7 18.2 8.6 16.6 L15.2 9.6 Q17.5 7 15.2 4.5 Q12.8 2 10.3 4.6 L3.2 12 Q0.3 15.2 3.2 18.2 Q6.2 21.2 9.3 18 L14.5 12.6" fill="none" stroke="#41709a" stroke-width="1.9" stroke-linecap="round"/></svg>
<svg style="position:absolute;left:2100.0px;top:348.5px;" width="18.0" height="18.0" viewBox="0 0 18 18"><circle cx="9" cy="9" r="7.8" fill="none" stroke="#41709a" stroke-width="2.2"/><path d="M5 9.2 L8 12 L13 6.5" fill="none" stroke="#41709a" stroke-width="2.4"/></svg>
<svg style="position:absolute;left:2294.5px;top:348.0px;" width="19.0" height="19.0" viewBox="0 0 19 19"><path d="M3.3 6 A8 8 0 1 1 3 12.5" fill="none" stroke="#41709a" stroke-width="2.3"/><path d="M0.3 2.5 L0.5 8.5 L6.5 8.3 Z" fill="#41709a"/><path d="M10.5 5 V10.5 L14 13" fill="none" stroke="#41709a" stroke-width="2.2"/></svg>
<svg style="position:absolute;left:2465.8px;top:347.5px;" width="16.0" height="20.0" viewBox="0 0 16 20"><circle cx="8" cy="4.5" r="4.3" fill="#41709a"/><path d="M0.5 20 V15 Q0.5 10 5 9.8 L8 13.5 L11 9.8 Q15.5 10 15.5 15 V20 Z" fill="#41709a"/><circle cx="4.5" cy="16" r="1.6" fill="#fff"/><path d="M11 12 V15.5 Q11 17 12.5 17" fill="none" stroke="#fff" stroke-width="1.1"/></svg>
<svg style="position:absolute;left:1519.4px;top:430.5px;" width="23.0" height="17.0" viewBox="0 0 23 17"><path d="M1 15.5 V2.5 Q1 1 2.5 1 H7.5 L9.5 3.2 H16 Q17.5 3.2 17.5 4.7 V6.5" fill="none" stroke="#111" stroke-width="2"/><path d="M1 15.5 L4.5 7.8 Q5 6.5 6.5 6.5 H20.5 Q22.5 6.5 21.8 8.3 L18.8 14.5 Q18.3 15.8 16.8 15.8 H1.5 Z" fill="none" stroke="#111" stroke-width="2" stroke-linejoin="round"/></svg>
<div class="t" style="left:1548.6px;top:429.4px;font-size:20.4px;color:#111;">Dossier d'origine :</div>
<svg style="position:absolute;left:1519.4px;top:459.0px;" width="22.0" height="20.0" viewBox="0 0 22 20"><path d="M10 4 H3 Q1 4 1 6 V17 Q1 19 3 19 H14 Q16 19 16 17 V11" fill="none" stroke="#41709a" stroke-width="2.2"/><path d="M8 12 L19 1.5" stroke="#41709a" stroke-width="2.4"/><path d="M12.5 0.3 H21 V8.8 Z" fill="#41709a"/></svg>
<div class="t" style="left:1546.7px;top:459.9px;font-size:20.4px;color:#43729a;">Bicycloun Nancy</div>
<svg style="position:absolute;left:2187.0px;top:430.5px;" width="17.5" height="17.5" viewBox="0 0 17.5 17.5"><circle cx="8.75" cy="8.75" r="7.6" fill="none" stroke="#111" stroke-width="2.3"/><path d="M4.8 9 L7.6 11.8 L12.8 6.3" fill="none" stroke="#111" stroke-width="2.3"/></svg>
<div class="t" style="left:2210.0px;top:429.3px;font-size:20.4px;color:#111;">Action parente :</div>
<div class="t" style="left:2187.0px;top:469.9px;font-size:20.4px;color:#444;">Pas d'action parente</div>
<div style="position:absolute;left:1519.4px;top:531.2px;width:1334.6px;height:2.0px;background:#e8e8e8"></div>
<svg style="position:absolute;left:1519.9px;top:559.3px;" width="58.0" height="58.0" viewBox="0 0 60 60"><defs><clipPath id="ac12"><circle cx="30" cy="30" r="30"/></clipPath>
<linearGradient id="ag12" x1="0" y1="0" x2="0" y2="1"><stop offset="0" stop-color="#c9ccd0"/><stop offset="1" stop-color="#a3a7ab"/></linearGradient></defs>
<g clip-path="url(#ac12)"><rect width="60" height="60" fill="url(#ag12)"/>
<path d="M3 64 C3 45 11 39.5 22 37 L30 40 L38 37 C49 39.5 57 45 57 64 Z" fill="#f2f2f2"/>
<path d="M5 55 Q17 49.5 30 53.5 Q43 49.5 55 55 L57 64 L3 64 Z" fill="#d9a487"/>
<path d="M25.5 27 H34.5 V38 Q30 41 25.5 38 Z" fill="#c28767"/>
<ellipse cx="30" cy="19.5" rx="8.3" ry="10.2" fill="#d29a77"/>
<path d="M21.6 18 Q20.8 5.6 30 5.4 Q39.2 5.6 38.4 18 Q37.2 11 30 11.2 Q22.8 11 21.6 18 Z" fill="#2a221e"/>
<path d="M22 21 Q22.5 30.5 30 31 Q37.5 30.5 38 21 Q36.5 27.8 30 28 Q23.5 27.8 22 21Z" fill="#3e302a" opacity="0.6"/>
<path d="M25.8 22.8 Q30 26.5 34.2 22.8 Q30 24.6 25.8 22.8Z" fill="#fff"/>
</g></svg>
<div style="position:absolute;left:1556.7px;top:592.8px;width:19.4px;height:19.4px;border-radius:50%;background:#5cb85c;border:2.5px solid #fff"></div>
<div class="t" style="left:1519.4px;top:622.4px;font-size:20.4px;color:#333;">Fabrice LEGAU</div>
<div class="t" style="left:1519.4px;top:652.5px;font-size:18.7px;color:#333;font-style:italic;">Responsable</div>
<svg style="position:absolute;left:2187.6px;top:559.0px;" width="58.0" height="58.0" viewBox="0 0 58 58"><circle cx="29" cy="29" r="28" fill="none" stroke="#3f7fc0" stroke-width="1.8" stroke-dasharray="4.2 3.4"/><path d="M29 19.5 V38.5 M19.5 29 H38.5" stroke="#3f7fc0" stroke-width="4.4"/></svg>
<div class="t" style="left:2187.0px;top:622.0px;font-size:20.4px;color:#333;">Aucun</div>
<div class="t" style="left:2187.0px;top:652.4px;font-size:18.7px;color:#333;font-style:italic;">Contributeur</div>
<div style="position:absolute;left:1519.4px;top:709.8px;width:1334.6px;height:2.0px;background:#e8e8e8"></div>
<div class="t" style="left:1519.4px;top:746.4px;font-size:18.7px;color:#444;">1. Type de vélo :</div>
<div class="t" style="left:1666.0px;top:746.4px;font-size:18.7px;color:#43729a;">VTT</div>
<div class="t" style="left:1960.6px;top:746.4px;font-size:18.7px;color:#444;">2. Catégorie :</div>
<div class="t" style="left:2082.0px;top:746.4px;font-size:18.7px;color:#43729a;">Ventes Privées / Destockage</div>
<div class="t" style="left:2400.6px;top:746.4px;font-size:18.7px;color:#444;">3. Type d'opération :</div>
<div class="t" style="left:2579.3px;top:746.4px;font-size:18.7px;color:#43729a;">SMS</div>
<div class="t" style="left:1519.4px;top:777.8px;font-size:18.7px;color:#444;">4. Modèles :</div>
<div class="t" style="left:1631.0px;top:777.8px;font-size:18.7px;color:#43729a;">VTT GHJ</div>
<div class="t" style="left:1960.6px;top:777.8px;font-size:18.7px;color:#444;">5. Budget :</div>
<div class="t" style="left:2059.7px;top:777.8px;font-size:18.7px;color:#43729a;">4000</div>
<div style="position:absolute;left:1519.4px;top:826.5px;width:1334.6px;height:2.0px;background:#e8e8e8"></div>
<div class="t" style="left:1519.4px;top:868.5px;font-size:20.4px;color:#333;">Date de début :</div>
<div style="position:absolute;left:1666.7px;top:854.7px;width:198.0px;height:48.6px;border:2px solid #d3dae1;border-right:none;border-radius:6px 0 0 6px;box-sizing:border-box;background:#fff"></div>
<div style="position:absolute;left:1863.0px;top:854.2px;width:60.0px;height:49.2px;background:#3f88cc;border-radius:0 6px 6px 0"></div>
<svg style="position:absolute;left:1883.0px;top:867.5px;" width="20.0" height="23.0" viewBox="0 0 20 23"><rect x="0.5" y="3.5" width="19" height="19" rx="2" fill="#fff"/><rect x="4" y="0" width="2.6" height="6" rx="1" fill="#fff"/><rect x="13.4" y="0" width="2.6" height="6" rx="1" fill="#fff"/><rect x="2.6" y="9.5" width="2.6" height="2.8" fill="#3f88cc"/><rect x="2.6" y="13.6" width="2.6" height="2.8" fill="#3f88cc"/><rect x="2.6" y="17.7" width="2.6" height="2.8" fill="#3f88cc"/><rect x="6.5" y="9.5" width="2.6" height="2.8" fill="#3f88cc"/><rect x="6.5" y="13.6" width="2.6" height="2.8" fill="#3f88cc"/><rect x="6.5" y="17.7" width="2.6" height="2.8" fill="#3f88cc"/><rect x="10.4" y="9.5" width="2.6" height="2.8" fill="#3f88cc"/><rect x="10.4" y="13.6" width="2.6" height="2.8" fill="#3f88cc"/><rect x="10.4" y="17.7" width="2.6" height="2.8" fill="#3f88cc"/><rect x="14.3" y="9.5" width="2.6" height="2.8" fill="#3f88cc"/><rect x="14.3" y="13.6" width="2.6" height="2.8" fill="#3f88cc"/><rect x="14.3" y="17.7" width="2.6" height="2.8" fill="#3f88cc"/></svg>
<div style="position:absolute;left:1519.4px;top:929.3px;width:1334.6px;height:2.0px;background:#e8e8e8"></div>
<div class="t" style="left:1519.4px;top:961.6px;font-size:20.4px;color:#333;">Description</div>
<svg style="position:absolute;left:1631.0px;top:963.0px;" width="18.0" height="18.0" viewBox="0 0 18 18"><path d="M1 17 L2 12 L12.5 1.5 Q13.5 0.5 14.5 1.5 L16.5 3.5 Q17.5 4.5 16.5 5.5 L6 16 Z" fill="#41709a"/><path d="M2.3 12.3 L5.7 15.7" stroke="#fff" stroke-width="1.2"/></svg>
<div style="position:absolute;left:1519.4px;top:997.0px;width:1334.0px;height:512.5px;border:2px solid #bdbdbd;border-radius:3px;box-sizing:border-box;background:#fff"></div>
<div style="position:absolute;left:1537.5px;top:1524.6px;width:1299.0px;height:8.3px;background:#d5d5d5;border-radius:4.2px"></div>
<div class="t" style="left:1519.4px;top:1572.7px;font-size:20.4px;color:#333;">Nombre de reports : 2</div>
<div class="t" style="left:1945.8px;top:1572.7px;font-size:20.4px;color:#333;">Création : 17/01/2022 14:08:41</div>
<div class="t" style="right:27.5px;top:1571.9px;font-size:20.4px;color:#333;">Dernière modification : 06/03/2023 11:52:41</div>
<div style="position:absolute;left:1519.4px;top:1623.5px;width:1334.6px;height:2.0px;background:#e8e8e8"></div>
<div style="position:absolute;left:1394.8px;top:88.0px;width:91.0px;height:86.0px;border:10px solid #ae2119;border-radius:9px;box-sizing:border-box;background:#fff;z-index:20"></div>
<div style="position:absolute;left:1420.9px;top:112.4px;width:41.5px;height:41.5px;border:2px solid #e0e0e0;border-radius:7px;box-sizing:border-box;background:#fff;box-shadow:0 2px 14px rgba(0,0,0,0.16);z-index:21"></div>
<svg style="position:absolute;left:1432.0px;top:124.0px;z-index:22" width="20.0" height="17.0" viewBox="0 0 20 17"><path d="M9 1.5 L2 8.5 L9 15.5 M17.5 1.5 L10.5 8.5 L17.5 15.5" fill="none" stroke="#444" stroke-width="1.8"/></svg>
<div style="position:absolute;left:1437.5px;top:150.5px;width:139px;height:139px;border-radius:50%;background:#ae2119;border:7px solid #fff;z-index:30"></div>
<div class="t" style="left:1013.8px;width:1000px;text-align:center;top:188.9px;font-size:80px;color:#fff;font-weight:bold;z-index:31">2</div>
</body></html>
